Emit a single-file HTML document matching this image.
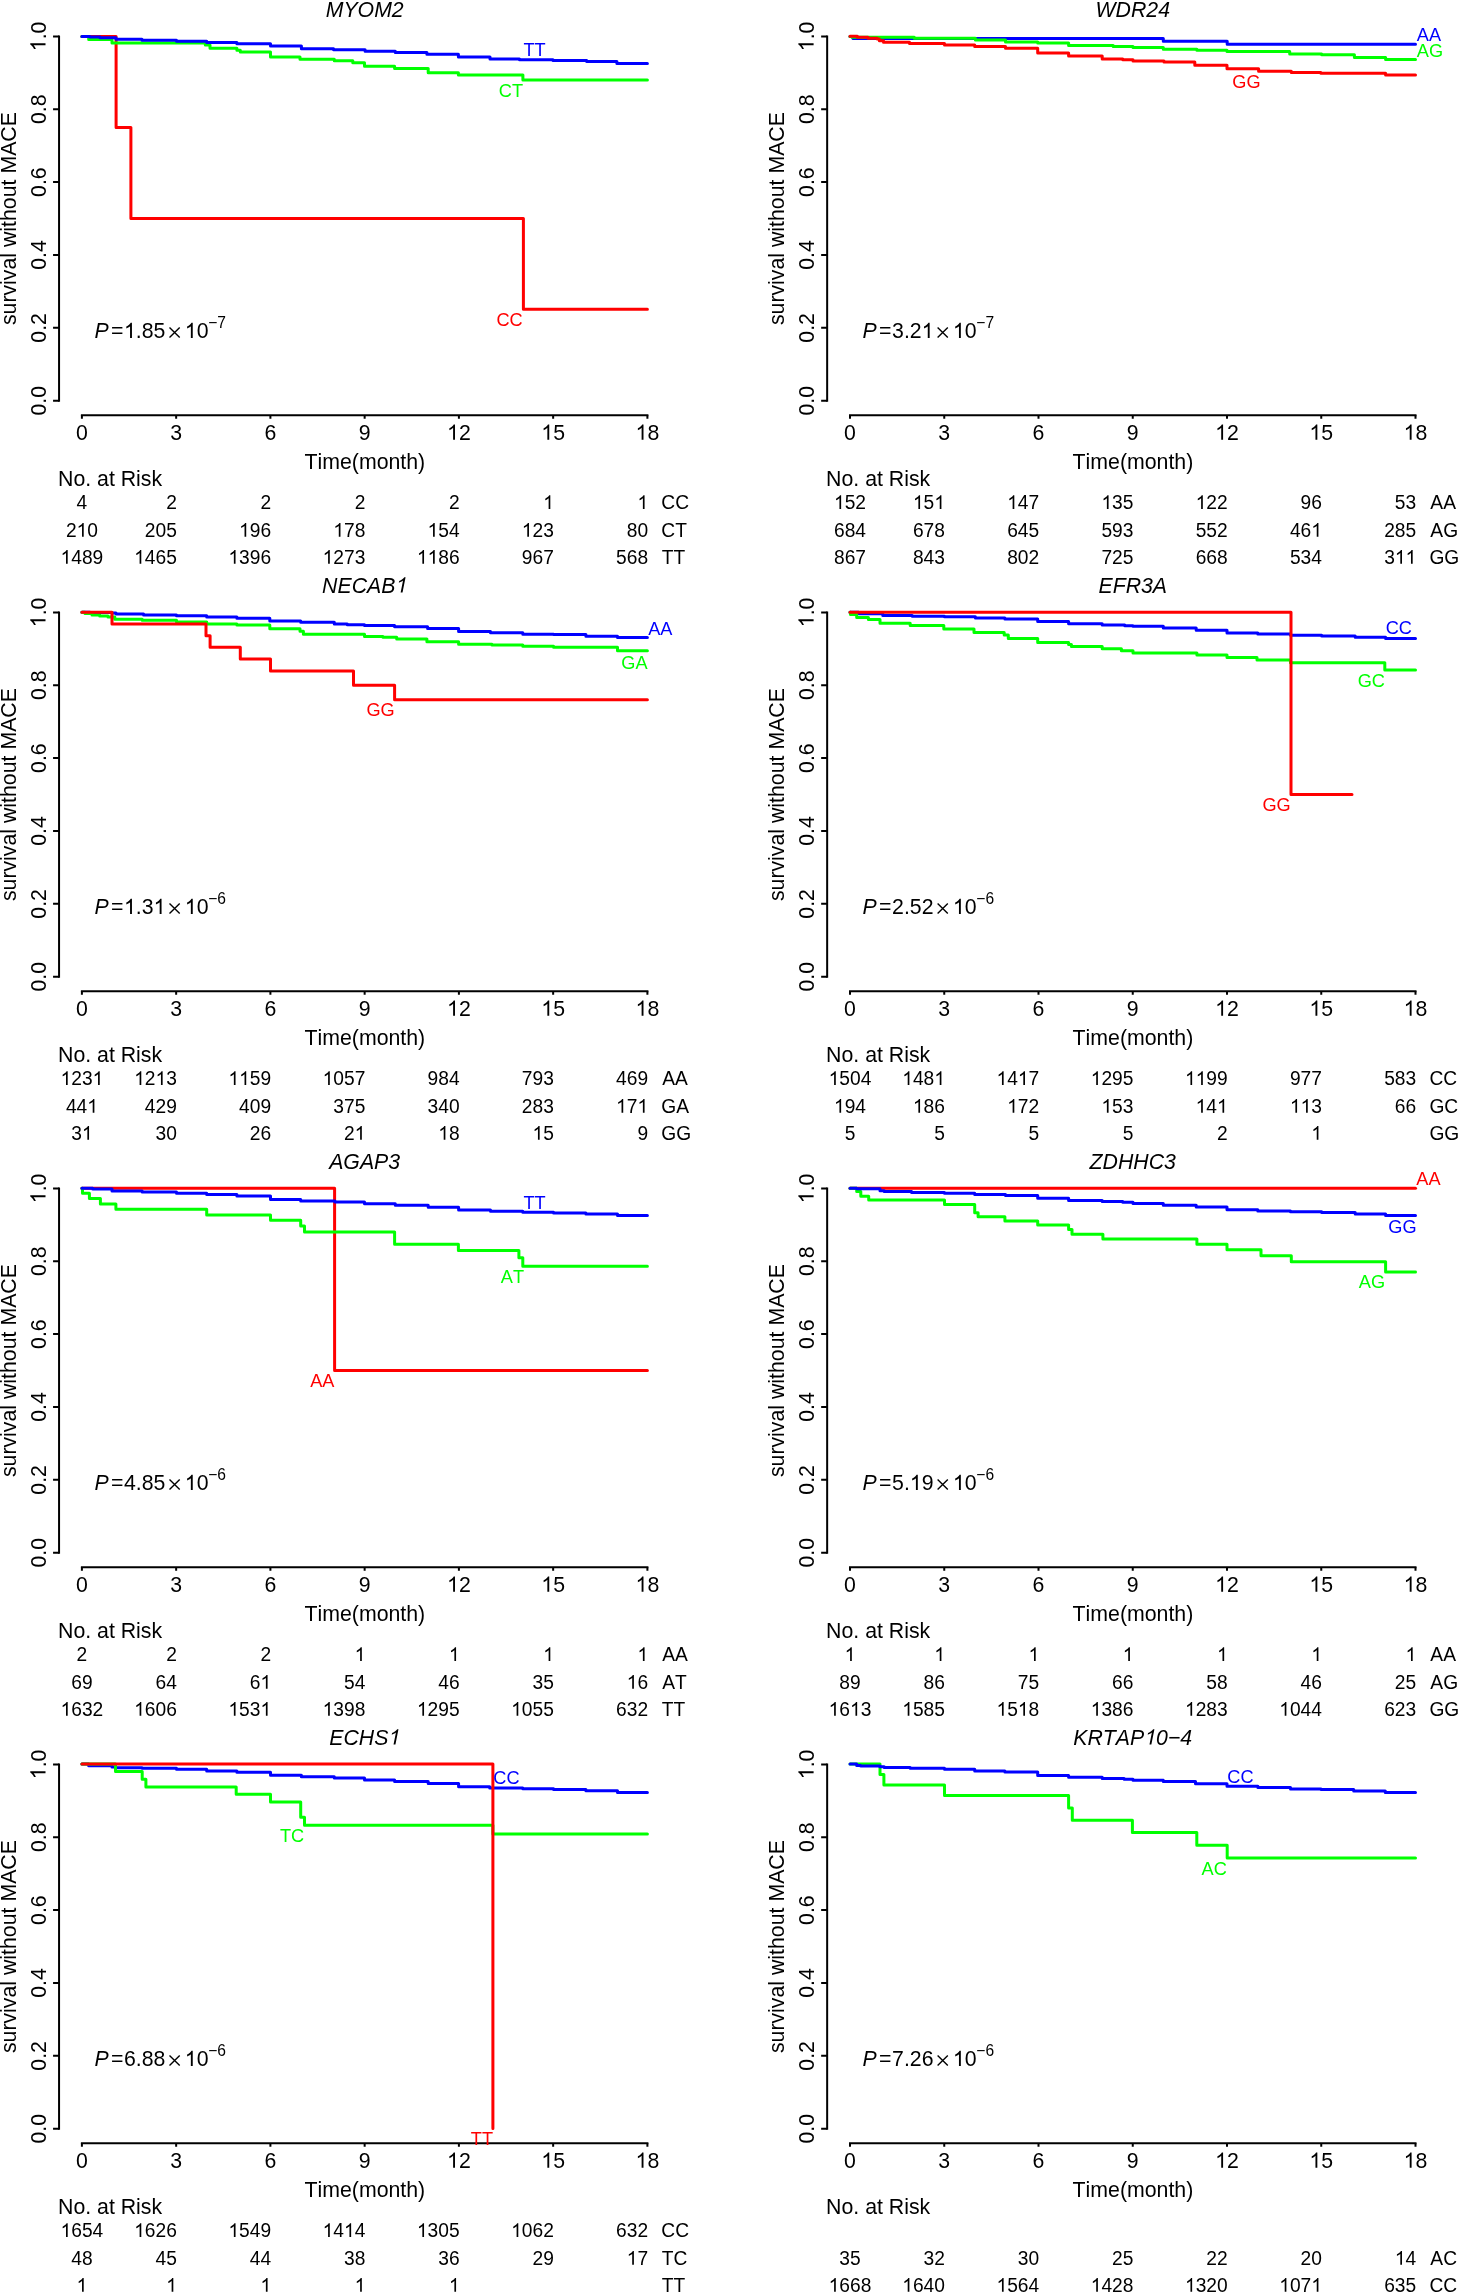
<!DOCTYPE html><html><head><meta charset="utf-8"><title>KM curves</title><style>html,body{margin:0;padding:0;background:#fff;}svg{display:block;will-change:transform;}text{font-family:"Liberation Sans",sans-serif;font-kerning:none;font-feature-settings:"kern" 0;}</style></head><body>
<svg width="1458" height="2293" viewBox="0 0 1458 2293">
<rect width="1458" height="2293" fill="#fff"/>
<g><g transform="translate(364.7 16.5)"><text x="-39.05" y="0" font-size="21.3" font-style="italic" transform="scale(1 1.0407)">MYOM2</text></g><path d="M59.06 400.7V36.4" stroke="#000" stroke-width="2" fill="none" stroke-linecap="square"/><path d="M59.06 400.7H53.06M59.06 327.84H53.06M59.06 254.98H53.06M59.06 182.12H53.06M59.06 109.26H53.06M59.06 36.4H53.06" stroke="#000" stroke-width="2" fill="none"/><g transform="translate(45.5 400.7) rotate(-90)"><text x="-14.8" y="0" font-size="21.3" transform="scale(1 1.0407)">0.0</text></g><g transform="translate(45.5 327.84) rotate(-90)"><text x="-14.8" y="0" font-size="21.3" transform="scale(1 1.0407)">0.2</text></g><g transform="translate(45.5 254.98) rotate(-90)"><text x="-14.8" y="0" font-size="21.3" transform="scale(1 1.0407)">0.4</text></g><g transform="translate(45.5 182.12) rotate(-90)"><text x="-14.8" y="0" font-size="21.3" transform="scale(1 1.0407)">0.6</text></g><g transform="translate(45.5 109.26) rotate(-90)"><text x="-14.8" y="0" font-size="21.3" transform="scale(1 1.0407)">0.8</text></g><g transform="translate(45.5 36.4) rotate(-90)"><text x="-14.8" y="0" font-size="21.3" transform="scale(1 1.0407)"> .0</text><path d="M763 0H583V1147Q518 1085 412 1023Q306 961 223 930V1104Q372 1174 484 1274Q596 1374 643 1466H763Z" transform="matrix(0.0104 0 0 -0.0104 -14.8 0)"/></g><text transform="translate(16.2 218.6) rotate(-90)" font-size="21.3" text-anchor="middle">survival without MACE</text><path d="M81.9 415.3H647.4" stroke="#000" stroke-width="2" fill="none" stroke-linecap="square"/><path d="M81.9 415.3V418.7M176.15 415.3V418.7M270.4 415.3V418.7M364.65 415.3V418.7M458.9 415.3V418.7M553.15 415.3V418.7M647.4 415.3V418.7" stroke="#000" stroke-width="2" fill="none"/><g transform="translate(81.9 439.8)"><text x="-5.92" y="0" font-size="21.3" transform="scale(1 1.0407)">0</text></g><g transform="translate(176.15 439.8)"><text x="-5.92" y="0" font-size="21.3" transform="scale(1 1.0407)">3</text></g><g transform="translate(270.4 439.8)"><text x="-5.92" y="0" font-size="21.3" transform="scale(1 1.0407)">6</text></g><g transform="translate(364.65 439.8)"><text x="-5.92" y="0" font-size="21.3" transform="scale(1 1.0407)">9</text></g><g transform="translate(458.9 439.8)"><text x="-11.85" y="0" font-size="21.3" transform="scale(1 1.0407)"> 2</text><path d="M763 0H583V1147Q518 1085 412 1023Q306 961 223 930V1104Q372 1174 484 1274Q596 1374 643 1466H763Z" transform="matrix(0.0104 0 0 -0.0104 -11.85 0)"/></g><g transform="translate(553.15 439.8)"><text x="-11.85" y="0" font-size="21.3" transform="scale(1 1.0407)"> 5</text><path d="M763 0H583V1147Q518 1085 412 1023Q306 961 223 930V1104Q372 1174 484 1274Q596 1374 643 1466H763Z" transform="matrix(0.0104 0 0 -0.0104 -11.85 0)"/></g><g transform="translate(647.4 439.8)"><text x="-11.85" y="0" font-size="21.3" transform="scale(1 1.0407)"> 8</text><path d="M763 0H583V1147Q518 1085 412 1023Q306 961 223 930V1104Q372 1174 484 1274Q596 1374 643 1466H763Z" transform="matrix(0.0104 0 0 -0.0104 -11.85 0)"/></g><text x="364.85" y="469.1" font-size="21.3" text-anchor="middle">Time(month)</text><text x="58" y="486.4" font-size="21.3">No. at Risk</text><g transform="translate(81.9 509)"><text x="-5.34" y="0" font-size="19.2" transform="scale(1 1.0407)">4</text></g><g transform="translate(176.85 509)"><text x="-10.68" y="0" font-size="19.2" transform="scale(1 1.0407)">2</text></g><g transform="translate(271.1 509)"><text x="-10.68" y="0" font-size="19.2" transform="scale(1 1.0407)">2</text></g><g transform="translate(365.35 509)"><text x="-10.68" y="0" font-size="19.2" transform="scale(1 1.0407)">2</text></g><g transform="translate(459.6 509)"><text x="-10.68" y="0" font-size="19.2" transform="scale(1 1.0407)">2</text></g><g transform="translate(553.85 509)"><path d="M763 0H583V1147Q518 1085 412 1023Q306 961 223 930V1104Q372 1174 484 1274Q596 1374 643 1466H763Z" transform="matrix(0.00937 0 0 -0.00937 -10.68 0)"/></g><g transform="translate(648.1 509)"><path d="M763 0H583V1147Q518 1085 412 1023Q306 961 223 930V1104Q372 1174 484 1274Q596 1374 643 1466H763Z" transform="matrix(0.00937 0 0 -0.00937 -10.68 0)"/></g><g transform="translate(661.32 509)"><text x="0" y="0" font-size="19.2" transform="scale(1 1.0407)">CC</text></g><g transform="translate(81.9 536.7)"><text x="-16.02" y="0" font-size="19.2" transform="scale(1 1.0407)">2 0</text><path d="M763 0H583V1147Q518 1085 412 1023Q306 961 223 930V1104Q372 1174 484 1274Q596 1374 643 1466H763Z" transform="matrix(0.00937 0 0 -0.00937 -5.34 0)"/></g><g transform="translate(176.85 536.7)"><text x="-32.03" y="0" font-size="19.2" transform="scale(1 1.0407)">205</text></g><g transform="translate(271.1 536.7)"><text x="-32.03" y="0" font-size="19.2" transform="scale(1 1.0407)"> 96</text><path d="M763 0H583V1147Q518 1085 412 1023Q306 961 223 930V1104Q372 1174 484 1274Q596 1374 643 1466H763Z" transform="matrix(0.00937 0 0 -0.00937 -32.03 0)"/></g><g transform="translate(365.35 536.7)"><text x="-32.03" y="0" font-size="19.2" transform="scale(1 1.0407)"> 78</text><path d="M763 0H583V1147Q518 1085 412 1023Q306 961 223 930V1104Q372 1174 484 1274Q596 1374 643 1466H763Z" transform="matrix(0.00937 0 0 -0.00937 -32.03 0)"/></g><g transform="translate(459.6 536.7)"><text x="-32.03" y="0" font-size="19.2" transform="scale(1 1.0407)"> 54</text><path d="M763 0H583V1147Q518 1085 412 1023Q306 961 223 930V1104Q372 1174 484 1274Q596 1374 643 1466H763Z" transform="matrix(0.00937 0 0 -0.00937 -32.03 0)"/></g><g transform="translate(553.85 536.7)"><text x="-32.03" y="0" font-size="19.2" transform="scale(1 1.0407)"> 23</text><path d="M763 0H583V1147Q518 1085 412 1023Q306 961 223 930V1104Q372 1174 484 1274Q596 1374 643 1466H763Z" transform="matrix(0.00937 0 0 -0.00937 -32.03 0)"/></g><g transform="translate(648.1 536.7)"><text x="-21.36" y="0" font-size="19.2" transform="scale(1 1.0407)">80</text></g><g transform="translate(661.32 536.7)"><text x="0" y="0" font-size="19.2" transform="scale(1 1.0407)">CT</text></g><g transform="translate(81.9 563.8)"><text x="-21.36" y="0" font-size="19.2" transform="scale(1 1.0407)"> 489</text><path d="M763 0H583V1147Q518 1085 412 1023Q306 961 223 930V1104Q372 1174 484 1274Q596 1374 643 1466H763Z" transform="matrix(0.00937 0 0 -0.00937 -21.36 0)"/></g><g transform="translate(176.85 563.8)"><text x="-42.71" y="0" font-size="19.2" transform="scale(1 1.0407)"> 465</text><path d="M763 0H583V1147Q518 1085 412 1023Q306 961 223 930V1104Q372 1174 484 1274Q596 1374 643 1466H763Z" transform="matrix(0.00937 0 0 -0.00937 -42.71 0)"/></g><g transform="translate(271.1 563.8)"><text x="-42.71" y="0" font-size="19.2" transform="scale(1 1.0407)"> 396</text><path d="M763 0H583V1147Q518 1085 412 1023Q306 961 223 930V1104Q372 1174 484 1274Q596 1374 643 1466H763Z" transform="matrix(0.00937 0 0 -0.00937 -42.71 0)"/></g><g transform="translate(365.35 563.8)"><text x="-42.71" y="0" font-size="19.2" transform="scale(1 1.0407)"> 273</text><path d="M763 0H583V1147Q518 1085 412 1023Q306 961 223 930V1104Q372 1174 484 1274Q596 1374 643 1466H763Z" transform="matrix(0.00937 0 0 -0.00937 -42.71 0)"/></g><g transform="translate(459.6 563.8)"><text x="-42.71" y="0" font-size="19.2" transform="scale(1 1.0407)">  86</text><path d="M763 0H583V1147Q518 1085 412 1023Q306 961 223 930V1104Q372 1174 484 1274Q596 1374 643 1466H763Z" transform="matrix(0.00937 0 0 -0.00937 -42.71 0)"/><path d="M763 0H583V1147Q518 1085 412 1023Q306 961 223 930V1104Q372 1174 484 1274Q596 1374 643 1466H763Z" transform="matrix(0.00937 0 0 -0.00937 -32.03 0)"/></g><g transform="translate(553.85 563.8)"><text x="-32.03" y="0" font-size="19.2" transform="scale(1 1.0407)">967</text></g><g transform="translate(648.1 563.8)"><text x="-32.03" y="0" font-size="19.2" transform="scale(1 1.0407)">568</text></g><g transform="translate(661.87 563.8)"><text x="0" y="0" font-size="19.2" transform="scale(1 1.0407)">TT</text></g><path d="M81.9 36.4H116.1V127.5H130.9V218.5H523.4V309.3H647.4" stroke="#ff0000" stroke-width="3" fill="none" stroke-linecap="round" stroke-linejoin="round"/><path d="M81.9 36.4H88.7V39.6H112V43H205.3V45.1H210V48.2H236.9V50.3H240.3V52H270.5V57H300V59.3H334.3V60.7H352.8V62.8H364.5V66.3H394.6V68.5H428.2V72.7H458.4V75H522.9V79.9H647.4" stroke="#00ff00" stroke-width="3" fill="none" stroke-linecap="round" stroke-linejoin="round"/><path d="M81.9 36.4H90V37H100V37.8H116V39.3H142V40.3H176.5V41.2H206.7V42.6H236.9V43.7H270.5V46H301.4V48.7H333.6V49.7H365.1V51.2H395.3V52.4H426.9V54.2H458.4V56.9H490V59H519.5V59.7H553V60.4H586.7V61.5H616.9V63.4H647.4" stroke="#0000ff" stroke-width="3" fill="none" stroke-linecap="round" stroke-linejoin="round"/><g transform="translate(534.5 55.9)" fill="#0000ff"><text x="-11.12" y="0" font-size="18.2" fill="#0000ff" transform="scale(1 1.0407)">TT</text></g><g transform="translate(510.9 97.2)" fill="#00ff00"><text x="-12.13" y="0" font-size="18.2" fill="#00ff00" transform="scale(1 1.0407)">CT</text></g><g transform="translate(509.6 326.2)" fill="#ff0000"><text x="-13.14" y="0" font-size="18.2" fill="#ff0000" transform="scale(1 1.0407)">CC</text></g><g transform="translate(94.5 338.1)"><text x="0" y="0" font-size="21.3" font-style="italic" transform="scale(1 1.0407)">P</text></g><text x="111" y="338.1" font-size="21.3">=</text><g transform="translate(124 338.1)"><text x="0" y="0" font-size="21.3" transform="scale(1 1.0407)"> .85</text><path d="M763 0H583V1147Q518 1085 412 1023Q306 961 223 930V1104Q372 1174 484 1274Q596 1374 643 1466H763Z" transform="matrix(0.0104 0 0 -0.0104 0 0)"/></g><path d="M169.5 327.6L179.7 337.6M169.5 337.6L179.7 327.6" stroke="#000" stroke-width="1.4" fill="none"/><g transform="translate(184.8 338.1)"><text x="0" y="0" font-size="21.3" transform="scale(1 1.0407)"> 0</text><path d="M763 0H583V1147Q518 1085 412 1023Q306 961 223 930V1104Q372 1174 484 1274Q596 1374 643 1466H763Z" transform="matrix(0.0104 0 0 -0.0104 0 0)"/></g><g transform="translate(208.2 327.9)"><text x="0" y="0" font-size="15.6" transform="scale(1 1.0407)">−7</text></g></g>
<g><g transform="translate(1132.8 16.5)"><text x="-37.28" y="0" font-size="21.3" font-style="italic" transform="scale(1 1.0407)">WDR24</text></g><path d="M827.16 400.7V36.4" stroke="#000" stroke-width="2" fill="none" stroke-linecap="square"/><path d="M827.16 400.7H821.16M827.16 327.84H821.16M827.16 254.98H821.16M827.16 182.12H821.16M827.16 109.26H821.16M827.16 36.4H821.16" stroke="#000" stroke-width="2" fill="none"/><g transform="translate(813.6 400.7) rotate(-90)"><text x="-14.8" y="0" font-size="21.3" transform="scale(1 1.0407)">0.0</text></g><g transform="translate(813.6 327.84) rotate(-90)"><text x="-14.8" y="0" font-size="21.3" transform="scale(1 1.0407)">0.2</text></g><g transform="translate(813.6 254.98) rotate(-90)"><text x="-14.8" y="0" font-size="21.3" transform="scale(1 1.0407)">0.4</text></g><g transform="translate(813.6 182.12) rotate(-90)"><text x="-14.8" y="0" font-size="21.3" transform="scale(1 1.0407)">0.6</text></g><g transform="translate(813.6 109.26) rotate(-90)"><text x="-14.8" y="0" font-size="21.3" transform="scale(1 1.0407)">0.8</text></g><g transform="translate(813.6 36.4) rotate(-90)"><text x="-14.8" y="0" font-size="21.3" transform="scale(1 1.0407)"> .0</text><path d="M763 0H583V1147Q518 1085 412 1023Q306 961 223 930V1104Q372 1174 484 1274Q596 1374 643 1466H763Z" transform="matrix(0.0104 0 0 -0.0104 -14.8 0)"/></g><text transform="translate(784.3 218.6) rotate(-90)" font-size="21.3" text-anchor="middle">survival without MACE</text><path d="M850 415.3H1415.5" stroke="#000" stroke-width="2" fill="none" stroke-linecap="square"/><path d="M850 415.3V418.7M944.25 415.3V418.7M1038.5 415.3V418.7M1132.75 415.3V418.7M1227 415.3V418.7M1321.25 415.3V418.7M1415.5 415.3V418.7" stroke="#000" stroke-width="2" fill="none"/><g transform="translate(850 439.8)"><text x="-5.92" y="0" font-size="21.3" transform="scale(1 1.0407)">0</text></g><g transform="translate(944.25 439.8)"><text x="-5.92" y="0" font-size="21.3" transform="scale(1 1.0407)">3</text></g><g transform="translate(1038.5 439.8)"><text x="-5.92" y="0" font-size="21.3" transform="scale(1 1.0407)">6</text></g><g transform="translate(1132.75 439.8)"><text x="-5.92" y="0" font-size="21.3" transform="scale(1 1.0407)">9</text></g><g transform="translate(1227 439.8)"><text x="-11.85" y="0" font-size="21.3" transform="scale(1 1.0407)"> 2</text><path d="M763 0H583V1147Q518 1085 412 1023Q306 961 223 930V1104Q372 1174 484 1274Q596 1374 643 1466H763Z" transform="matrix(0.0104 0 0 -0.0104 -11.85 0)"/></g><g transform="translate(1321.25 439.8)"><text x="-11.85" y="0" font-size="21.3" transform="scale(1 1.0407)"> 5</text><path d="M763 0H583V1147Q518 1085 412 1023Q306 961 223 930V1104Q372 1174 484 1274Q596 1374 643 1466H763Z" transform="matrix(0.0104 0 0 -0.0104 -11.85 0)"/></g><g transform="translate(1415.5 439.8)"><text x="-11.85" y="0" font-size="21.3" transform="scale(1 1.0407)"> 8</text><path d="M763 0H583V1147Q518 1085 412 1023Q306 961 223 930V1104Q372 1174 484 1274Q596 1374 643 1466H763Z" transform="matrix(0.0104 0 0 -0.0104 -11.85 0)"/></g><text x="1132.95" y="469.1" font-size="21.3" text-anchor="middle">Time(month)</text><text x="826.1" y="486.4" font-size="21.3">No. at Risk</text><g transform="translate(850 509)"><text x="-16.02" y="0" font-size="19.2" transform="scale(1 1.0407)"> 52</text><path d="M763 0H583V1147Q518 1085 412 1023Q306 961 223 930V1104Q372 1174 484 1274Q596 1374 643 1466H763Z" transform="matrix(0.00937 0 0 -0.00937 -16.02 0)"/></g><g transform="translate(944.95 509)"><text x="-32.03" y="0" font-size="19.2" transform="scale(1 1.0407)"> 5 </text><path d="M763 0H583V1147Q518 1085 412 1023Q306 961 223 930V1104Q372 1174 484 1274Q596 1374 643 1466H763Z" transform="matrix(0.00937 0 0 -0.00937 -32.03 0)"/><path d="M763 0H583V1147Q518 1085 412 1023Q306 961 223 930V1104Q372 1174 484 1274Q596 1374 643 1466H763Z" transform="matrix(0.00937 0 0 -0.00937 -10.68 0)"/></g><g transform="translate(1039.2 509)"><text x="-32.03" y="0" font-size="19.2" transform="scale(1 1.0407)"> 47</text><path d="M763 0H583V1147Q518 1085 412 1023Q306 961 223 930V1104Q372 1174 484 1274Q596 1374 643 1466H763Z" transform="matrix(0.00937 0 0 -0.00937 -32.03 0)"/></g><g transform="translate(1133.45 509)"><text x="-32.03" y="0" font-size="19.2" transform="scale(1 1.0407)"> 35</text><path d="M763 0H583V1147Q518 1085 412 1023Q306 961 223 930V1104Q372 1174 484 1274Q596 1374 643 1466H763Z" transform="matrix(0.00937 0 0 -0.00937 -32.03 0)"/></g><g transform="translate(1227.7 509)"><text x="-32.03" y="0" font-size="19.2" transform="scale(1 1.0407)"> 22</text><path d="M763 0H583V1147Q518 1085 412 1023Q306 961 223 930V1104Q372 1174 484 1274Q596 1374 643 1466H763Z" transform="matrix(0.00937 0 0 -0.00937 -32.03 0)"/></g><g transform="translate(1321.95 509)"><text x="-21.36" y="0" font-size="19.2" transform="scale(1 1.0407)">96</text></g><g transform="translate(1416.2 509)"><text x="-21.36" y="0" font-size="19.2" transform="scale(1 1.0407)">53</text></g><g transform="translate(1430.36 509)"><text x="0" y="0" font-size="19.2" transform="scale(1 1.0407)">AA</text></g><g transform="translate(850 536.7)"><text x="-16.02" y="0" font-size="19.2" transform="scale(1 1.0407)">684</text></g><g transform="translate(944.95 536.7)"><text x="-32.03" y="0" font-size="19.2" transform="scale(1 1.0407)">678</text></g><g transform="translate(1039.2 536.7)"><text x="-32.03" y="0" font-size="19.2" transform="scale(1 1.0407)">645</text></g><g transform="translate(1133.45 536.7)"><text x="-32.03" y="0" font-size="19.2" transform="scale(1 1.0407)">593</text></g><g transform="translate(1227.7 536.7)"><text x="-32.03" y="0" font-size="19.2" transform="scale(1 1.0407)">552</text></g><g transform="translate(1321.95 536.7)"><text x="-32.03" y="0" font-size="19.2" transform="scale(1 1.0407)">46 </text><path d="M763 0H583V1147Q518 1085 412 1023Q306 961 223 930V1104Q372 1174 484 1274Q596 1374 643 1466H763Z" transform="matrix(0.00937 0 0 -0.00937 -10.68 0)"/></g><g transform="translate(1416.2 536.7)"><text x="-32.03" y="0" font-size="19.2" transform="scale(1 1.0407)">285</text></g><g transform="translate(1430.36 536.7)"><text x="0" y="0" font-size="19.2" transform="scale(1 1.0407)">AG</text></g><g transform="translate(850 563.8)"><text x="-16.02" y="0" font-size="19.2" transform="scale(1 1.0407)">867</text></g><g transform="translate(944.95 563.8)"><text x="-32.03" y="0" font-size="19.2" transform="scale(1 1.0407)">843</text></g><g transform="translate(1039.2 563.8)"><text x="-32.03" y="0" font-size="19.2" transform="scale(1 1.0407)">802</text></g><g transform="translate(1133.45 563.8)"><text x="-32.03" y="0" font-size="19.2" transform="scale(1 1.0407)">725</text></g><g transform="translate(1227.7 563.8)"><text x="-32.03" y="0" font-size="19.2" transform="scale(1 1.0407)">668</text></g><g transform="translate(1321.95 563.8)"><text x="-32.03" y="0" font-size="19.2" transform="scale(1 1.0407)">534</text></g><g transform="translate(1416.2 563.8)"><text x="-32.03" y="0" font-size="19.2" transform="scale(1 1.0407)">3  </text><path d="M763 0H583V1147Q518 1085 412 1023Q306 961 223 930V1104Q372 1174 484 1274Q596 1374 643 1466H763Z" transform="matrix(0.00937 0 0 -0.00937 -21.36 0)"/><path d="M763 0H583V1147Q518 1085 412 1023Q306 961 223 930V1104Q372 1174 484 1274Q596 1374 643 1466H763Z" transform="matrix(0.00937 0 0 -0.00937 -10.68 0)"/></g><g transform="translate(1429.43 563.8)"><text x="0" y="0" font-size="19.2" transform="scale(1 1.0407)">GG</text></g><path d="M850 36.4H853V38.4H1163.3V41.3H1227.2V44.2H1415.5" stroke="#0000ff" stroke-width="3" fill="none" stroke-linecap="round" stroke-linejoin="round"/><path d="M850 36.4H852V37.3H914.3V38.3H975.4V40.1H1005.5V42H1037.7V43.1H1068.6V45.4H1113.2V46.5H1133V47.6H1163.3V49.3H1196.9V50.2H1227V51.5H1289.7V54.1H1321.7V54.7H1354.4V57.4H1385.6V59.4H1415.5" stroke="#00ff00" stroke-width="3" fill="none" stroke-linecap="round" stroke-linejoin="round"/><path d="M850 36.3H857.4V37.3H868V38.2H877.3V39.1H879.4V40.7H883.5V42.3H909.5V43.5H944.5V45.1H974.7V46.5H1005.5V48.3H1037.7V53.1H1068.6V56.1H1102.2V58.9H1122.8V59.8H1133V60.9H1164V61.9H1194.8V65.3H1227V68.7H1258.6V71.3H1291.3V72.5H1320.9V73.3H1385.6V75H1415.5" stroke="#ff0000" stroke-width="3" fill="none" stroke-linecap="round" stroke-linejoin="round"/><g transform="translate(1416.76 40.7)" fill="#0000ff"><text x="0" y="0" font-size="18.2" fill="#0000ff" transform="scale(1 1.0407)">AA</text></g><g transform="translate(1416.76 56.8)" fill="#00ff00"><text x="0" y="0" font-size="18.2" fill="#00ff00" transform="scale(1 1.0407)">AG</text></g><g transform="translate(1246.4 87.8)" fill="#ff0000"><text x="-14.16" y="0" font-size="18.2" fill="#ff0000" transform="scale(1 1.0407)">GG</text></g><g transform="translate(862.6 338.1)"><text x="0" y="0" font-size="21.3" font-style="italic" transform="scale(1 1.0407)">P</text></g><text x="879.1" y="338.1" font-size="21.3">=</text><g transform="translate(892.1 338.1)"><text x="0" y="0" font-size="21.3" transform="scale(1 1.0407)">3.2 </text><path d="M763 0H583V1147Q518 1085 412 1023Q306 961 223 930V1104Q372 1174 484 1274Q596 1374 643 1466H763Z" transform="matrix(0.0104 0 0 -0.0104 29.61 0)"/></g><path d="M937.6 327.6L947.8 337.6M937.6 337.6L947.8 327.6" stroke="#000" stroke-width="1.4" fill="none"/><g transform="translate(952.9 338.1)"><text x="0" y="0" font-size="21.3" transform="scale(1 1.0407)"> 0</text><path d="M763 0H583V1147Q518 1085 412 1023Q306 961 223 930V1104Q372 1174 484 1274Q596 1374 643 1466H763Z" transform="matrix(0.0104 0 0 -0.0104 0 0)"/></g><g transform="translate(976.3 327.9)"><text x="0" y="0" font-size="15.6" transform="scale(1 1.0407)">−7</text></g></g>
<g><g transform="translate(364.7 592.5)"><text x="-42.62" y="0" font-size="21.3" font-style="italic" transform="scale(1 1.0407)">NECAB </text><path d="M763 0H583V1147Q518 1085 412 1023Q306 961 223 930V1104Q372 1174 484 1274Q596 1374 643 1466H763Z" transform="matrix(0.0104 0 0.00208 -0.0104 29.89 0)"/></g><path d="M59.06 976.7V612.4" stroke="#000" stroke-width="2" fill="none" stroke-linecap="square"/><path d="M59.06 976.7H53.06M59.06 903.84H53.06M59.06 830.98H53.06M59.06 758.12H53.06M59.06 685.26H53.06M59.06 612.4H53.06" stroke="#000" stroke-width="2" fill="none"/><g transform="translate(45.5 976.7) rotate(-90)"><text x="-14.8" y="0" font-size="21.3" transform="scale(1 1.0407)">0.0</text></g><g transform="translate(45.5 903.84) rotate(-90)"><text x="-14.8" y="0" font-size="21.3" transform="scale(1 1.0407)">0.2</text></g><g transform="translate(45.5 830.98) rotate(-90)"><text x="-14.8" y="0" font-size="21.3" transform="scale(1 1.0407)">0.4</text></g><g transform="translate(45.5 758.12) rotate(-90)"><text x="-14.8" y="0" font-size="21.3" transform="scale(1 1.0407)">0.6</text></g><g transform="translate(45.5 685.26) rotate(-90)"><text x="-14.8" y="0" font-size="21.3" transform="scale(1 1.0407)">0.8</text></g><g transform="translate(45.5 612.4) rotate(-90)"><text x="-14.8" y="0" font-size="21.3" transform="scale(1 1.0407)"> .0</text><path d="M763 0H583V1147Q518 1085 412 1023Q306 961 223 930V1104Q372 1174 484 1274Q596 1374 643 1466H763Z" transform="matrix(0.0104 0 0 -0.0104 -14.8 0)"/></g><text transform="translate(16.2 794.6) rotate(-90)" font-size="21.3" text-anchor="middle">survival without MACE</text><path d="M81.9 991.3H647.4" stroke="#000" stroke-width="2" fill="none" stroke-linecap="square"/><path d="M81.9 991.3V994.7M176.15 991.3V994.7M270.4 991.3V994.7M364.65 991.3V994.7M458.9 991.3V994.7M553.15 991.3V994.7M647.4 991.3V994.7" stroke="#000" stroke-width="2" fill="none"/><g transform="translate(81.9 1015.8)"><text x="-5.92" y="0" font-size="21.3" transform="scale(1 1.0407)">0</text></g><g transform="translate(176.15 1015.8)"><text x="-5.92" y="0" font-size="21.3" transform="scale(1 1.0407)">3</text></g><g transform="translate(270.4 1015.8)"><text x="-5.92" y="0" font-size="21.3" transform="scale(1 1.0407)">6</text></g><g transform="translate(364.65 1015.8)"><text x="-5.92" y="0" font-size="21.3" transform="scale(1 1.0407)">9</text></g><g transform="translate(458.9 1015.8)"><text x="-11.85" y="0" font-size="21.3" transform="scale(1 1.0407)"> 2</text><path d="M763 0H583V1147Q518 1085 412 1023Q306 961 223 930V1104Q372 1174 484 1274Q596 1374 643 1466H763Z" transform="matrix(0.0104 0 0 -0.0104 -11.85 0)"/></g><g transform="translate(553.15 1015.8)"><text x="-11.85" y="0" font-size="21.3" transform="scale(1 1.0407)"> 5</text><path d="M763 0H583V1147Q518 1085 412 1023Q306 961 223 930V1104Q372 1174 484 1274Q596 1374 643 1466H763Z" transform="matrix(0.0104 0 0 -0.0104 -11.85 0)"/></g><g transform="translate(647.4 1015.8)"><text x="-11.85" y="0" font-size="21.3" transform="scale(1 1.0407)"> 8</text><path d="M763 0H583V1147Q518 1085 412 1023Q306 961 223 930V1104Q372 1174 484 1274Q596 1374 643 1466H763Z" transform="matrix(0.0104 0 0 -0.0104 -11.85 0)"/></g><text x="364.85" y="1045.1" font-size="21.3" text-anchor="middle">Time(month)</text><text x="58" y="1062.4" font-size="21.3">No. at Risk</text><g transform="translate(81.9 1085)"><text x="-21.36" y="0" font-size="19.2" transform="scale(1 1.0407)"> 23 </text><path d="M763 0H583V1147Q518 1085 412 1023Q306 961 223 930V1104Q372 1174 484 1274Q596 1374 643 1466H763Z" transform="matrix(0.00937 0 0 -0.00937 -21.36 0)"/><path d="M763 0H583V1147Q518 1085 412 1023Q306 961 223 930V1104Q372 1174 484 1274Q596 1374 643 1466H763Z" transform="matrix(0.00937 0 0 -0.00937 10.68 0)"/></g><g transform="translate(176.85 1085)"><text x="-42.71" y="0" font-size="19.2" transform="scale(1 1.0407)"> 2 3</text><path d="M763 0H583V1147Q518 1085 412 1023Q306 961 223 930V1104Q372 1174 484 1274Q596 1374 643 1466H763Z" transform="matrix(0.00937 0 0 -0.00937 -42.71 0)"/><path d="M763 0H583V1147Q518 1085 412 1023Q306 961 223 930V1104Q372 1174 484 1274Q596 1374 643 1466H763Z" transform="matrix(0.00937 0 0 -0.00937 -21.36 0)"/></g><g transform="translate(271.1 1085)"><text x="-42.71" y="0" font-size="19.2" transform="scale(1 1.0407)">  59</text><path d="M763 0H583V1147Q518 1085 412 1023Q306 961 223 930V1104Q372 1174 484 1274Q596 1374 643 1466H763Z" transform="matrix(0.00937 0 0 -0.00937 -42.71 0)"/><path d="M763 0H583V1147Q518 1085 412 1023Q306 961 223 930V1104Q372 1174 484 1274Q596 1374 643 1466H763Z" transform="matrix(0.00937 0 0 -0.00937 -32.03 0)"/></g><g transform="translate(365.35 1085)"><text x="-42.71" y="0" font-size="19.2" transform="scale(1 1.0407)"> 057</text><path d="M763 0H583V1147Q518 1085 412 1023Q306 961 223 930V1104Q372 1174 484 1274Q596 1374 643 1466H763Z" transform="matrix(0.00937 0 0 -0.00937 -42.71 0)"/></g><g transform="translate(459.6 1085)"><text x="-32.03" y="0" font-size="19.2" transform="scale(1 1.0407)">984</text></g><g transform="translate(553.85 1085)"><text x="-32.03" y="0" font-size="19.2" transform="scale(1 1.0407)">793</text></g><g transform="translate(648.1 1085)"><text x="-32.03" y="0" font-size="19.2" transform="scale(1 1.0407)">469</text></g><g transform="translate(662.26 1085)"><text x="0" y="0" font-size="19.2" transform="scale(1 1.0407)">AA</text></g><g transform="translate(81.9 1112.7)"><text x="-16.02" y="0" font-size="19.2" transform="scale(1 1.0407)">44 </text><path d="M763 0H583V1147Q518 1085 412 1023Q306 961 223 930V1104Q372 1174 484 1274Q596 1374 643 1466H763Z" transform="matrix(0.00937 0 0 -0.00937 5.34 0)"/></g><g transform="translate(176.85 1112.7)"><text x="-32.03" y="0" font-size="19.2" transform="scale(1 1.0407)">429</text></g><g transform="translate(271.1 1112.7)"><text x="-32.03" y="0" font-size="19.2" transform="scale(1 1.0407)">409</text></g><g transform="translate(365.35 1112.7)"><text x="-32.03" y="0" font-size="19.2" transform="scale(1 1.0407)">375</text></g><g transform="translate(459.6 1112.7)"><text x="-32.03" y="0" font-size="19.2" transform="scale(1 1.0407)">340</text></g><g transform="translate(553.85 1112.7)"><text x="-32.03" y="0" font-size="19.2" transform="scale(1 1.0407)">283</text></g><g transform="translate(648.1 1112.7)"><text x="-32.03" y="0" font-size="19.2" transform="scale(1 1.0407)"> 7 </text><path d="M763 0H583V1147Q518 1085 412 1023Q306 961 223 930V1104Q372 1174 484 1274Q596 1374 643 1466H763Z" transform="matrix(0.00937 0 0 -0.00937 -32.03 0)"/><path d="M763 0H583V1147Q518 1085 412 1023Q306 961 223 930V1104Q372 1174 484 1274Q596 1374 643 1466H763Z" transform="matrix(0.00937 0 0 -0.00937 -10.68 0)"/></g><g transform="translate(661.33 1112.7)"><text x="0" y="0" font-size="19.2" transform="scale(1 1.0407)">GA</text></g><g transform="translate(81.9 1139.8)"><text x="-10.68" y="0" font-size="19.2" transform="scale(1 1.0407)">3 </text><path d="M763 0H583V1147Q518 1085 412 1023Q306 961 223 930V1104Q372 1174 484 1274Q596 1374 643 1466H763Z" transform="matrix(0.00937 0 0 -0.00937 0 0)"/></g><g transform="translate(176.85 1139.8)"><text x="-21.36" y="0" font-size="19.2" transform="scale(1 1.0407)">30</text></g><g transform="translate(271.1 1139.8)"><text x="-21.36" y="0" font-size="19.2" transform="scale(1 1.0407)">26</text></g><g transform="translate(365.35 1139.8)"><text x="-21.36" y="0" font-size="19.2" transform="scale(1 1.0407)">2 </text><path d="M763 0H583V1147Q518 1085 412 1023Q306 961 223 930V1104Q372 1174 484 1274Q596 1374 643 1466H763Z" transform="matrix(0.00937 0 0 -0.00937 -10.68 0)"/></g><g transform="translate(459.6 1139.8)"><text x="-21.36" y="0" font-size="19.2" transform="scale(1 1.0407)"> 8</text><path d="M763 0H583V1147Q518 1085 412 1023Q306 961 223 930V1104Q372 1174 484 1274Q596 1374 643 1466H763Z" transform="matrix(0.00937 0 0 -0.00937 -21.36 0)"/></g><g transform="translate(553.85 1139.8)"><text x="-21.36" y="0" font-size="19.2" transform="scale(1 1.0407)"> 5</text><path d="M763 0H583V1147Q518 1085 412 1023Q306 961 223 930V1104Q372 1174 484 1274Q596 1374 643 1466H763Z" transform="matrix(0.00937 0 0 -0.00937 -21.36 0)"/></g><g transform="translate(648.1 1139.8)"><text x="-10.68" y="0" font-size="19.2" transform="scale(1 1.0407)">9</text></g><g transform="translate(661.33 1139.8)"><text x="0" y="0" font-size="19.2" transform="scale(1 1.0407)">GG</text></g><path d="M81.9 612.3H90V612.6H112V613H116V614H143.6V615.1H176.5V615.8H206.7V617.1H236.9V618.2H269.8V620.9H300.7V622.2H334.3V624H347.3V624.7H364.5V625.4H394.6V626.7H427.6V628.4H458.6V631.5H490.5V632.8H522.8V634.2H553.6V634.4H585.9V636.3H617.5V637.5H647.4" stroke="#0000ff" stroke-width="3" fill="none" stroke-linecap="round" stroke-linejoin="round"/><path d="M81.9 612.3H85V613.5H92V615.1H99.7V616H108V617.1H114.8V619.2H142.2V620.3H176.5V622H206.7V624H236.9V625H269.8V628.8H300V631.3H303.4V634.3H364.5V636.4H383V637.3H396.7V639.1H426.9V641.8H458.6V644.2H492V645H522.8V646.2H553.6V647.3H617.5V650.8H647.4" stroke="#00ff00" stroke-width="3" fill="none" stroke-linecap="round" stroke-linejoin="round"/><path d="M81.9 612.3H112V624H206V635.7H210.1V647.3H240.3V659H270.5V671.1H353.5V685.3H394.6V699.8H647.4" stroke="#ff0000" stroke-width="3" fill="none" stroke-linecap="round" stroke-linejoin="round"/><g transform="translate(648.16 634.7)" fill="#0000ff"><text x="0" y="0" font-size="18.2" fill="#0000ff" transform="scale(1 1.0407)">AA</text></g><g transform="translate(647.54 668.7)" fill="#00ff00"><text x="-26.3" y="0" font-size="18.2" fill="#00ff00" transform="scale(1 1.0407)">GA</text></g><g transform="translate(380.6 716.3)" fill="#ff0000"><text x="-14.16" y="0" font-size="18.2" fill="#ff0000" transform="scale(1 1.0407)">GG</text></g><g transform="translate(94.5 914.1)"><text x="0" y="0" font-size="21.3" font-style="italic" transform="scale(1 1.0407)">P</text></g><text x="111" y="914.1" font-size="21.3">=</text><g transform="translate(124 914.1)"><text x="0" y="0" font-size="21.3" transform="scale(1 1.0407)"> .3 </text><path d="M763 0H583V1147Q518 1085 412 1023Q306 961 223 930V1104Q372 1174 484 1274Q596 1374 643 1466H763Z" transform="matrix(0.0104 0 0 -0.0104 0 0)"/><path d="M763 0H583V1147Q518 1085 412 1023Q306 961 223 930V1104Q372 1174 484 1274Q596 1374 643 1466H763Z" transform="matrix(0.0104 0 0 -0.0104 29.61 0)"/></g><path d="M169.5 903.6L179.7 913.6M169.5 913.6L179.7 903.6" stroke="#000" stroke-width="1.4" fill="none"/><g transform="translate(184.8 914.1)"><text x="0" y="0" font-size="21.3" transform="scale(1 1.0407)"> 0</text><path d="M763 0H583V1147Q518 1085 412 1023Q306 961 223 930V1104Q372 1174 484 1274Q596 1374 643 1466H763Z" transform="matrix(0.0104 0 0 -0.0104 0 0)"/></g><g transform="translate(208.2 903.9)"><text x="0" y="0" font-size="15.6" transform="scale(1 1.0407)">−6</text></g></g>
<g><g transform="translate(1132.8 592.5)"><text x="-34.33" y="0" font-size="21.3" font-style="italic" transform="scale(1 1.0407)">EFR3A</text></g><path d="M827.16 976.7V612.4" stroke="#000" stroke-width="2" fill="none" stroke-linecap="square"/><path d="M827.16 976.7H821.16M827.16 903.84H821.16M827.16 830.98H821.16M827.16 758.12H821.16M827.16 685.26H821.16M827.16 612.4H821.16" stroke="#000" stroke-width="2" fill="none"/><g transform="translate(813.6 976.7) rotate(-90)"><text x="-14.8" y="0" font-size="21.3" transform="scale(1 1.0407)">0.0</text></g><g transform="translate(813.6 903.84) rotate(-90)"><text x="-14.8" y="0" font-size="21.3" transform="scale(1 1.0407)">0.2</text></g><g transform="translate(813.6 830.98) rotate(-90)"><text x="-14.8" y="0" font-size="21.3" transform="scale(1 1.0407)">0.4</text></g><g transform="translate(813.6 758.12) rotate(-90)"><text x="-14.8" y="0" font-size="21.3" transform="scale(1 1.0407)">0.6</text></g><g transform="translate(813.6 685.26) rotate(-90)"><text x="-14.8" y="0" font-size="21.3" transform="scale(1 1.0407)">0.8</text></g><g transform="translate(813.6 612.4) rotate(-90)"><text x="-14.8" y="0" font-size="21.3" transform="scale(1 1.0407)"> .0</text><path d="M763 0H583V1147Q518 1085 412 1023Q306 961 223 930V1104Q372 1174 484 1274Q596 1374 643 1466H763Z" transform="matrix(0.0104 0 0 -0.0104 -14.8 0)"/></g><text transform="translate(784.3 794.6) rotate(-90)" font-size="21.3" text-anchor="middle">survival without MACE</text><path d="M850 991.3H1415.5" stroke="#000" stroke-width="2" fill="none" stroke-linecap="square"/><path d="M850 991.3V994.7M944.25 991.3V994.7M1038.5 991.3V994.7M1132.75 991.3V994.7M1227 991.3V994.7M1321.25 991.3V994.7M1415.5 991.3V994.7" stroke="#000" stroke-width="2" fill="none"/><g transform="translate(850 1015.8)"><text x="-5.92" y="0" font-size="21.3" transform="scale(1 1.0407)">0</text></g><g transform="translate(944.25 1015.8)"><text x="-5.92" y="0" font-size="21.3" transform="scale(1 1.0407)">3</text></g><g transform="translate(1038.5 1015.8)"><text x="-5.92" y="0" font-size="21.3" transform="scale(1 1.0407)">6</text></g><g transform="translate(1132.75 1015.8)"><text x="-5.92" y="0" font-size="21.3" transform="scale(1 1.0407)">9</text></g><g transform="translate(1227 1015.8)"><text x="-11.85" y="0" font-size="21.3" transform="scale(1 1.0407)"> 2</text><path d="M763 0H583V1147Q518 1085 412 1023Q306 961 223 930V1104Q372 1174 484 1274Q596 1374 643 1466H763Z" transform="matrix(0.0104 0 0 -0.0104 -11.85 0)"/></g><g transform="translate(1321.25 1015.8)"><text x="-11.85" y="0" font-size="21.3" transform="scale(1 1.0407)"> 5</text><path d="M763 0H583V1147Q518 1085 412 1023Q306 961 223 930V1104Q372 1174 484 1274Q596 1374 643 1466H763Z" transform="matrix(0.0104 0 0 -0.0104 -11.85 0)"/></g><g transform="translate(1415.5 1015.8)"><text x="-11.85" y="0" font-size="21.3" transform="scale(1 1.0407)"> 8</text><path d="M763 0H583V1147Q518 1085 412 1023Q306 961 223 930V1104Q372 1174 484 1274Q596 1374 643 1466H763Z" transform="matrix(0.0104 0 0 -0.0104 -11.85 0)"/></g><text x="1132.95" y="1045.1" font-size="21.3" text-anchor="middle">Time(month)</text><text x="826.1" y="1062.4" font-size="21.3">No. at Risk</text><g transform="translate(850 1085)"><text x="-21.36" y="0" font-size="19.2" transform="scale(1 1.0407)"> 504</text><path d="M763 0H583V1147Q518 1085 412 1023Q306 961 223 930V1104Q372 1174 484 1274Q596 1374 643 1466H763Z" transform="matrix(0.00937 0 0 -0.00937 -21.36 0)"/></g><g transform="translate(944.95 1085)"><text x="-42.71" y="0" font-size="19.2" transform="scale(1 1.0407)"> 48 </text><path d="M763 0H583V1147Q518 1085 412 1023Q306 961 223 930V1104Q372 1174 484 1274Q596 1374 643 1466H763Z" transform="matrix(0.00937 0 0 -0.00937 -42.71 0)"/><path d="M763 0H583V1147Q518 1085 412 1023Q306 961 223 930V1104Q372 1174 484 1274Q596 1374 643 1466H763Z" transform="matrix(0.00937 0 0 -0.00937 -10.68 0)"/></g><g transform="translate(1039.2 1085)"><text x="-42.71" y="0" font-size="19.2" transform="scale(1 1.0407)"> 4 7</text><path d="M763 0H583V1147Q518 1085 412 1023Q306 961 223 930V1104Q372 1174 484 1274Q596 1374 643 1466H763Z" transform="matrix(0.00937 0 0 -0.00937 -42.71 0)"/><path d="M763 0H583V1147Q518 1085 412 1023Q306 961 223 930V1104Q372 1174 484 1274Q596 1374 643 1466H763Z" transform="matrix(0.00937 0 0 -0.00937 -21.36 0)"/></g><g transform="translate(1133.45 1085)"><text x="-42.71" y="0" font-size="19.2" transform="scale(1 1.0407)"> 295</text><path d="M763 0H583V1147Q518 1085 412 1023Q306 961 223 930V1104Q372 1174 484 1274Q596 1374 643 1466H763Z" transform="matrix(0.00937 0 0 -0.00937 -42.71 0)"/></g><g transform="translate(1227.7 1085)"><text x="-42.71" y="0" font-size="19.2" transform="scale(1 1.0407)">  99</text><path d="M763 0H583V1147Q518 1085 412 1023Q306 961 223 930V1104Q372 1174 484 1274Q596 1374 643 1466H763Z" transform="matrix(0.00937 0 0 -0.00937 -42.71 0)"/><path d="M763 0H583V1147Q518 1085 412 1023Q306 961 223 930V1104Q372 1174 484 1274Q596 1374 643 1466H763Z" transform="matrix(0.00937 0 0 -0.00937 -32.03 0)"/></g><g transform="translate(1321.95 1085)"><text x="-32.03" y="0" font-size="19.2" transform="scale(1 1.0407)">977</text></g><g transform="translate(1416.2 1085)"><text x="-32.03" y="0" font-size="19.2" transform="scale(1 1.0407)">583</text></g><g transform="translate(1429.42 1085)"><text x="0" y="0" font-size="19.2" transform="scale(1 1.0407)">CC</text></g><g transform="translate(850 1112.7)"><text x="-16.02" y="0" font-size="19.2" transform="scale(1 1.0407)"> 94</text><path d="M763 0H583V1147Q518 1085 412 1023Q306 961 223 930V1104Q372 1174 484 1274Q596 1374 643 1466H763Z" transform="matrix(0.00937 0 0 -0.00937 -16.02 0)"/></g><g transform="translate(944.95 1112.7)"><text x="-32.03" y="0" font-size="19.2" transform="scale(1 1.0407)"> 86</text><path d="M763 0H583V1147Q518 1085 412 1023Q306 961 223 930V1104Q372 1174 484 1274Q596 1374 643 1466H763Z" transform="matrix(0.00937 0 0 -0.00937 -32.03 0)"/></g><g transform="translate(1039.2 1112.7)"><text x="-32.03" y="0" font-size="19.2" transform="scale(1 1.0407)"> 72</text><path d="M763 0H583V1147Q518 1085 412 1023Q306 961 223 930V1104Q372 1174 484 1274Q596 1374 643 1466H763Z" transform="matrix(0.00937 0 0 -0.00937 -32.03 0)"/></g><g transform="translate(1133.45 1112.7)"><text x="-32.03" y="0" font-size="19.2" transform="scale(1 1.0407)"> 53</text><path d="M763 0H583V1147Q518 1085 412 1023Q306 961 223 930V1104Q372 1174 484 1274Q596 1374 643 1466H763Z" transform="matrix(0.00937 0 0 -0.00937 -32.03 0)"/></g><g transform="translate(1227.7 1112.7)"><text x="-32.03" y="0" font-size="19.2" transform="scale(1 1.0407)"> 4 </text><path d="M763 0H583V1147Q518 1085 412 1023Q306 961 223 930V1104Q372 1174 484 1274Q596 1374 643 1466H763Z" transform="matrix(0.00937 0 0 -0.00937 -32.03 0)"/><path d="M763 0H583V1147Q518 1085 412 1023Q306 961 223 930V1104Q372 1174 484 1274Q596 1374 643 1466H763Z" transform="matrix(0.00937 0 0 -0.00937 -10.68 0)"/></g><g transform="translate(1321.95 1112.7)"><text x="-32.03" y="0" font-size="19.2" transform="scale(1 1.0407)">  3</text><path d="M763 0H583V1147Q518 1085 412 1023Q306 961 223 930V1104Q372 1174 484 1274Q596 1374 643 1466H763Z" transform="matrix(0.00937 0 0 -0.00937 -32.03 0)"/><path d="M763 0H583V1147Q518 1085 412 1023Q306 961 223 930V1104Q372 1174 484 1274Q596 1374 643 1466H763Z" transform="matrix(0.00937 0 0 -0.00937 -21.36 0)"/></g><g transform="translate(1416.2 1112.7)"><text x="-21.36" y="0" font-size="19.2" transform="scale(1 1.0407)">66</text></g><g transform="translate(1429.43 1112.7)"><text x="0" y="0" font-size="19.2" transform="scale(1 1.0407)">GC</text></g><g transform="translate(850 1139.8)"><text x="-5.34" y="0" font-size="19.2" transform="scale(1 1.0407)">5</text></g><g transform="translate(944.95 1139.8)"><text x="-10.68" y="0" font-size="19.2" transform="scale(1 1.0407)">5</text></g><g transform="translate(1039.2 1139.8)"><text x="-10.68" y="0" font-size="19.2" transform="scale(1 1.0407)">5</text></g><g transform="translate(1133.45 1139.8)"><text x="-10.68" y="0" font-size="19.2" transform="scale(1 1.0407)">5</text></g><g transform="translate(1227.7 1139.8)"><text x="-10.68" y="0" font-size="19.2" transform="scale(1 1.0407)">2</text></g><g transform="translate(1321.95 1139.8)"><path d="M763 0H583V1147Q518 1085 412 1023Q306 961 223 930V1104Q372 1174 484 1274Q596 1374 643 1466H763Z" transform="matrix(0.00937 0 0 -0.00937 -10.68 0)"/></g><g transform="translate(1429.43 1139.8)"><text x="0" y="0" font-size="19.2" transform="scale(1 1.0407)">GG</text></g><path d="M850 612.3H858.8V613.7H882.8V615.4H912.3V616.2H944.5V616.7H975.4V618.1H1004.9V618.9H1037.7V621.5H1068.6V623.7H1102.2V625H1124.8V625.7H1133V626.3H1163.3V628.1H1196.2V630.2H1227V633.1H1257.8V634H1290.5V635.2H1321.7V636H1355.2V637.2H1385.6V638.4H1415.5" stroke="#0000ff" stroke-width="3" fill="none" stroke-linecap="round" stroke-linejoin="round"/><path d="M850 612.3H850.5V614.4H856.7V617.6H868.4V619.5H880V623.3H910.2V625.4H943.8V629.1H974V632.6H1004.2V635H1008.3V638.4H1037.7V642.5H1068.6V644.6H1071.4V646.4H1102.2V648.7H1121.4V650.8H1133V653.1H1196.9V655.1H1227V657.4H1257V660.1H1290.5V662.8H1384.8V670H1415.5" stroke="#00ff00" stroke-width="3" fill="none" stroke-linecap="round" stroke-linejoin="round"/><path d="M850 612.3H1291V794.4H1352" stroke="#ff0000" stroke-width="3" fill="none" stroke-linecap="round" stroke-linejoin="round"/><g transform="translate(1398.8 634.2)" fill="#0000ff"><text x="-13.14" y="0" font-size="18.2" fill="#0000ff" transform="scale(1 1.0407)">CC</text></g><g transform="translate(1371.3 686.8)" fill="#00ff00"><text x="-13.65" y="0" font-size="18.2" fill="#00ff00" transform="scale(1 1.0407)">GC</text></g><g transform="translate(1276.6 810.9)" fill="#ff0000"><text x="-14.16" y="0" font-size="18.2" fill="#ff0000" transform="scale(1 1.0407)">GG</text></g><g transform="translate(862.6 914.1)"><text x="0" y="0" font-size="21.3" font-style="italic" transform="scale(1 1.0407)">P</text></g><text x="879.1" y="914.1" font-size="21.3">=</text><g transform="translate(892.1 914.1)"><text x="0" y="0" font-size="21.3" transform="scale(1 1.0407)">2.52</text></g><path d="M937.6 903.6L947.8 913.6M937.6 913.6L947.8 903.6" stroke="#000" stroke-width="1.4" fill="none"/><g transform="translate(952.9 914.1)"><text x="0" y="0" font-size="21.3" transform="scale(1 1.0407)"> 0</text><path d="M763 0H583V1147Q518 1085 412 1023Q306 961 223 930V1104Q372 1174 484 1274Q596 1374 643 1466H763Z" transform="matrix(0.0104 0 0 -0.0104 0 0)"/></g><g transform="translate(976.3 903.9)"><text x="0" y="0" font-size="15.6" transform="scale(1 1.0407)">−6</text></g></g>
<g><g transform="translate(364.7 1168.5)"><text x="-35.52" y="0" font-size="21.3" font-style="italic" transform="scale(1 1.0407)">AGAP3</text></g><path d="M59.06 1552.7V1188.4" stroke="#000" stroke-width="2" fill="none" stroke-linecap="square"/><path d="M59.06 1552.7H53.06M59.06 1479.84H53.06M59.06 1406.98H53.06M59.06 1334.12H53.06M59.06 1261.26H53.06M59.06 1188.4H53.06" stroke="#000" stroke-width="2" fill="none"/><g transform="translate(45.5 1552.7) rotate(-90)"><text x="-14.8" y="0" font-size="21.3" transform="scale(1 1.0407)">0.0</text></g><g transform="translate(45.5 1479.84) rotate(-90)"><text x="-14.8" y="0" font-size="21.3" transform="scale(1 1.0407)">0.2</text></g><g transform="translate(45.5 1406.98) rotate(-90)"><text x="-14.8" y="0" font-size="21.3" transform="scale(1 1.0407)">0.4</text></g><g transform="translate(45.5 1334.12) rotate(-90)"><text x="-14.8" y="0" font-size="21.3" transform="scale(1 1.0407)">0.6</text></g><g transform="translate(45.5 1261.26) rotate(-90)"><text x="-14.8" y="0" font-size="21.3" transform="scale(1 1.0407)">0.8</text></g><g transform="translate(45.5 1188.4) rotate(-90)"><text x="-14.8" y="0" font-size="21.3" transform="scale(1 1.0407)"> .0</text><path d="M763 0H583V1147Q518 1085 412 1023Q306 961 223 930V1104Q372 1174 484 1274Q596 1374 643 1466H763Z" transform="matrix(0.0104 0 0 -0.0104 -14.8 0)"/></g><text transform="translate(16.2 1370.6) rotate(-90)" font-size="21.3" text-anchor="middle">survival without MACE</text><path d="M81.9 1567.3H647.4" stroke="#000" stroke-width="2" fill="none" stroke-linecap="square"/><path d="M81.9 1567.3V1570.7M176.15 1567.3V1570.7M270.4 1567.3V1570.7M364.65 1567.3V1570.7M458.9 1567.3V1570.7M553.15 1567.3V1570.7M647.4 1567.3V1570.7" stroke="#000" stroke-width="2" fill="none"/><g transform="translate(81.9 1591.8)"><text x="-5.92" y="0" font-size="21.3" transform="scale(1 1.0407)">0</text></g><g transform="translate(176.15 1591.8)"><text x="-5.92" y="0" font-size="21.3" transform="scale(1 1.0407)">3</text></g><g transform="translate(270.4 1591.8)"><text x="-5.92" y="0" font-size="21.3" transform="scale(1 1.0407)">6</text></g><g transform="translate(364.65 1591.8)"><text x="-5.92" y="0" font-size="21.3" transform="scale(1 1.0407)">9</text></g><g transform="translate(458.9 1591.8)"><text x="-11.85" y="0" font-size="21.3" transform="scale(1 1.0407)"> 2</text><path d="M763 0H583V1147Q518 1085 412 1023Q306 961 223 930V1104Q372 1174 484 1274Q596 1374 643 1466H763Z" transform="matrix(0.0104 0 0 -0.0104 -11.85 0)"/></g><g transform="translate(553.15 1591.8)"><text x="-11.85" y="0" font-size="21.3" transform="scale(1 1.0407)"> 5</text><path d="M763 0H583V1147Q518 1085 412 1023Q306 961 223 930V1104Q372 1174 484 1274Q596 1374 643 1466H763Z" transform="matrix(0.0104 0 0 -0.0104 -11.85 0)"/></g><g transform="translate(647.4 1591.8)"><text x="-11.85" y="0" font-size="21.3" transform="scale(1 1.0407)"> 8</text><path d="M763 0H583V1147Q518 1085 412 1023Q306 961 223 930V1104Q372 1174 484 1274Q596 1374 643 1466H763Z" transform="matrix(0.0104 0 0 -0.0104 -11.85 0)"/></g><text x="364.85" y="1621.1" font-size="21.3" text-anchor="middle">Time(month)</text><text x="58" y="1638.4" font-size="21.3">No. at Risk</text><g transform="translate(81.9 1661)"><text x="-5.34" y="0" font-size="19.2" transform="scale(1 1.0407)">2</text></g><g transform="translate(176.85 1661)"><text x="-10.68" y="0" font-size="19.2" transform="scale(1 1.0407)">2</text></g><g transform="translate(271.1 1661)"><text x="-10.68" y="0" font-size="19.2" transform="scale(1 1.0407)">2</text></g><g transform="translate(365.35 1661)"><path d="M763 0H583V1147Q518 1085 412 1023Q306 961 223 930V1104Q372 1174 484 1274Q596 1374 643 1466H763Z" transform="matrix(0.00937 0 0 -0.00937 -10.68 0)"/></g><g transform="translate(459.6 1661)"><path d="M763 0H583V1147Q518 1085 412 1023Q306 961 223 930V1104Q372 1174 484 1274Q596 1374 643 1466H763Z" transform="matrix(0.00937 0 0 -0.00937 -10.68 0)"/></g><g transform="translate(553.85 1661)"><path d="M763 0H583V1147Q518 1085 412 1023Q306 961 223 930V1104Q372 1174 484 1274Q596 1374 643 1466H763Z" transform="matrix(0.00937 0 0 -0.00937 -10.68 0)"/></g><g transform="translate(648.1 1661)"><path d="M763 0H583V1147Q518 1085 412 1023Q306 961 223 930V1104Q372 1174 484 1274Q596 1374 643 1466H763Z" transform="matrix(0.00937 0 0 -0.00937 -10.68 0)"/></g><g transform="translate(662.26 1661)"><text x="0" y="0" font-size="19.2" transform="scale(1 1.0407)">AA</text></g><g transform="translate(81.9 1688.7)"><text x="-10.68" y="0" font-size="19.2" transform="scale(1 1.0407)">69</text></g><g transform="translate(176.85 1688.7)"><text x="-21.36" y="0" font-size="19.2" transform="scale(1 1.0407)">64</text></g><g transform="translate(271.1 1688.7)"><text x="-21.36" y="0" font-size="19.2" transform="scale(1 1.0407)">6 </text><path d="M763 0H583V1147Q518 1085 412 1023Q306 961 223 930V1104Q372 1174 484 1274Q596 1374 643 1466H763Z" transform="matrix(0.00937 0 0 -0.00937 -10.68 0)"/></g><g transform="translate(365.35 1688.7)"><text x="-21.36" y="0" font-size="19.2" transform="scale(1 1.0407)">54</text></g><g transform="translate(459.6 1688.7)"><text x="-21.36" y="0" font-size="19.2" transform="scale(1 1.0407)">46</text></g><g transform="translate(553.85 1688.7)"><text x="-21.36" y="0" font-size="19.2" transform="scale(1 1.0407)">35</text></g><g transform="translate(648.1 1688.7)"><text x="-21.36" y="0" font-size="19.2" transform="scale(1 1.0407)"> 6</text><path d="M763 0H583V1147Q518 1085 412 1023Q306 961 223 930V1104Q372 1174 484 1274Q596 1374 643 1466H763Z" transform="matrix(0.00937 0 0 -0.00937 -21.36 0)"/></g><g transform="translate(662.26 1688.7)"><text x="0" y="0" font-size="19.2" transform="scale(1 1.0407)">AT</text></g><g transform="translate(81.9 1715.8)"><text x="-21.36" y="0" font-size="19.2" transform="scale(1 1.0407)"> 632</text><path d="M763 0H583V1147Q518 1085 412 1023Q306 961 223 930V1104Q372 1174 484 1274Q596 1374 643 1466H763Z" transform="matrix(0.00937 0 0 -0.00937 -21.36 0)"/></g><g transform="translate(176.85 1715.8)"><text x="-42.71" y="0" font-size="19.2" transform="scale(1 1.0407)"> 606</text><path d="M763 0H583V1147Q518 1085 412 1023Q306 961 223 930V1104Q372 1174 484 1274Q596 1374 643 1466H763Z" transform="matrix(0.00937 0 0 -0.00937 -42.71 0)"/></g><g transform="translate(271.1 1715.8)"><text x="-42.71" y="0" font-size="19.2" transform="scale(1 1.0407)"> 53 </text><path d="M763 0H583V1147Q518 1085 412 1023Q306 961 223 930V1104Q372 1174 484 1274Q596 1374 643 1466H763Z" transform="matrix(0.00937 0 0 -0.00937 -42.71 0)"/><path d="M763 0H583V1147Q518 1085 412 1023Q306 961 223 930V1104Q372 1174 484 1274Q596 1374 643 1466H763Z" transform="matrix(0.00937 0 0 -0.00937 -10.68 0)"/></g><g transform="translate(365.35 1715.8)"><text x="-42.71" y="0" font-size="19.2" transform="scale(1 1.0407)"> 398</text><path d="M763 0H583V1147Q518 1085 412 1023Q306 961 223 930V1104Q372 1174 484 1274Q596 1374 643 1466H763Z" transform="matrix(0.00937 0 0 -0.00937 -42.71 0)"/></g><g transform="translate(459.6 1715.8)"><text x="-42.71" y="0" font-size="19.2" transform="scale(1 1.0407)"> 295</text><path d="M763 0H583V1147Q518 1085 412 1023Q306 961 223 930V1104Q372 1174 484 1274Q596 1374 643 1466H763Z" transform="matrix(0.00937 0 0 -0.00937 -42.71 0)"/></g><g transform="translate(553.85 1715.8)"><text x="-42.71" y="0" font-size="19.2" transform="scale(1 1.0407)"> 055</text><path d="M763 0H583V1147Q518 1085 412 1023Q306 961 223 930V1104Q372 1174 484 1274Q596 1374 643 1466H763Z" transform="matrix(0.00937 0 0 -0.00937 -42.71 0)"/></g><g transform="translate(648.1 1715.8)"><text x="-32.03" y="0" font-size="19.2" transform="scale(1 1.0407)">632</text></g><g transform="translate(661.87 1715.8)"><text x="0" y="0" font-size="19.2" transform="scale(1 1.0407)">TT</text></g><path d="M81.9 1188.3H334.6V1370.4H647.4" stroke="#ff0000" stroke-width="3" fill="none" stroke-linecap="round" stroke-linejoin="round"/><path d="M81.9 1188.3H82.5V1193.2H89.4V1198.5H100.4V1204H115.9V1209.3H206.7V1215H270.5V1220.3H300.7V1226H304.5V1231.9H394.6V1244.2H458.4V1250.6H518.9V1257.8H522.8V1266.2H647.4" stroke="#00ff00" stroke-width="3" fill="none" stroke-linecap="round" stroke-linejoin="round"/><path d="M81.9 1188.3H92.8V1189.1H112V1191H142.2V1192.1H176.5V1193.2H206.7V1194.6H236.9V1196.1H270.5V1199.4H300.7V1201.1H335V1202H364.5V1203.8H395.3V1205.2H428.2V1207.2H458.6V1210.1H490.5V1211.3H522.8V1212.2H553.6V1212.9H585.9V1214H617.5V1215.5H647.4" stroke="#0000ff" stroke-width="3" fill="none" stroke-linecap="round" stroke-linejoin="round"/><g transform="translate(534.5 1208.9)" fill="#0000ff"><text x="-11.12" y="0" font-size="18.2" fill="#0000ff" transform="scale(1 1.0407)">TT</text></g><g transform="translate(512.4 1283)" fill="#00ff00"><text x="-11.63" y="0" font-size="18.2" fill="#00ff00" transform="scale(1 1.0407)">AT</text></g><g transform="translate(322.3 1387.1)" fill="#ff0000"><text x="-12.14" y="0" font-size="18.2" fill="#ff0000" transform="scale(1 1.0407)">AA</text></g><g transform="translate(94.5 1490.1)"><text x="0" y="0" font-size="21.3" font-style="italic" transform="scale(1 1.0407)">P</text></g><text x="111" y="1490.1" font-size="21.3">=</text><g transform="translate(124 1490.1)"><text x="0" y="0" font-size="21.3" transform="scale(1 1.0407)">4.85</text></g><path d="M169.5 1479.6L179.7 1489.6M169.5 1489.6L179.7 1479.6" stroke="#000" stroke-width="1.4" fill="none"/><g transform="translate(184.8 1490.1)"><text x="0" y="0" font-size="21.3" transform="scale(1 1.0407)"> 0</text><path d="M763 0H583V1147Q518 1085 412 1023Q306 961 223 930V1104Q372 1174 484 1274Q596 1374 643 1466H763Z" transform="matrix(0.0104 0 0 -0.0104 0 0)"/></g><g transform="translate(208.2 1479.9)"><text x="0" y="0" font-size="15.6" transform="scale(1 1.0407)">−6</text></g></g>
<g><g transform="translate(1132.8 1168.5)"><text x="-43.19" y="0" font-size="21.3" font-style="italic" transform="scale(1 1.0407)">ZDHHC3</text></g><path d="M827.16 1552.7V1188.4" stroke="#000" stroke-width="2" fill="none" stroke-linecap="square"/><path d="M827.16 1552.7H821.16M827.16 1479.84H821.16M827.16 1406.98H821.16M827.16 1334.12H821.16M827.16 1261.26H821.16M827.16 1188.4H821.16" stroke="#000" stroke-width="2" fill="none"/><g transform="translate(813.6 1552.7) rotate(-90)"><text x="-14.8" y="0" font-size="21.3" transform="scale(1 1.0407)">0.0</text></g><g transform="translate(813.6 1479.84) rotate(-90)"><text x="-14.8" y="0" font-size="21.3" transform="scale(1 1.0407)">0.2</text></g><g transform="translate(813.6 1406.98) rotate(-90)"><text x="-14.8" y="0" font-size="21.3" transform="scale(1 1.0407)">0.4</text></g><g transform="translate(813.6 1334.12) rotate(-90)"><text x="-14.8" y="0" font-size="21.3" transform="scale(1 1.0407)">0.6</text></g><g transform="translate(813.6 1261.26) rotate(-90)"><text x="-14.8" y="0" font-size="21.3" transform="scale(1 1.0407)">0.8</text></g><g transform="translate(813.6 1188.4) rotate(-90)"><text x="-14.8" y="0" font-size="21.3" transform="scale(1 1.0407)"> .0</text><path d="M763 0H583V1147Q518 1085 412 1023Q306 961 223 930V1104Q372 1174 484 1274Q596 1374 643 1466H763Z" transform="matrix(0.0104 0 0 -0.0104 -14.8 0)"/></g><text transform="translate(784.3 1370.6) rotate(-90)" font-size="21.3" text-anchor="middle">survival without MACE</text><path d="M850 1567.3H1415.5" stroke="#000" stroke-width="2" fill="none" stroke-linecap="square"/><path d="M850 1567.3V1570.7M944.25 1567.3V1570.7M1038.5 1567.3V1570.7M1132.75 1567.3V1570.7M1227 1567.3V1570.7M1321.25 1567.3V1570.7M1415.5 1567.3V1570.7" stroke="#000" stroke-width="2" fill="none"/><g transform="translate(850 1591.8)"><text x="-5.92" y="0" font-size="21.3" transform="scale(1 1.0407)">0</text></g><g transform="translate(944.25 1591.8)"><text x="-5.92" y="0" font-size="21.3" transform="scale(1 1.0407)">3</text></g><g transform="translate(1038.5 1591.8)"><text x="-5.92" y="0" font-size="21.3" transform="scale(1 1.0407)">6</text></g><g transform="translate(1132.75 1591.8)"><text x="-5.92" y="0" font-size="21.3" transform="scale(1 1.0407)">9</text></g><g transform="translate(1227 1591.8)"><text x="-11.85" y="0" font-size="21.3" transform="scale(1 1.0407)"> 2</text><path d="M763 0H583V1147Q518 1085 412 1023Q306 961 223 930V1104Q372 1174 484 1274Q596 1374 643 1466H763Z" transform="matrix(0.0104 0 0 -0.0104 -11.85 0)"/></g><g transform="translate(1321.25 1591.8)"><text x="-11.85" y="0" font-size="21.3" transform="scale(1 1.0407)"> 5</text><path d="M763 0H583V1147Q518 1085 412 1023Q306 961 223 930V1104Q372 1174 484 1274Q596 1374 643 1466H763Z" transform="matrix(0.0104 0 0 -0.0104 -11.85 0)"/></g><g transform="translate(1415.5 1591.8)"><text x="-11.85" y="0" font-size="21.3" transform="scale(1 1.0407)"> 8</text><path d="M763 0H583V1147Q518 1085 412 1023Q306 961 223 930V1104Q372 1174 484 1274Q596 1374 643 1466H763Z" transform="matrix(0.0104 0 0 -0.0104 -11.85 0)"/></g><text x="1132.95" y="1621.1" font-size="21.3" text-anchor="middle">Time(month)</text><text x="826.1" y="1638.4" font-size="21.3">No. at Risk</text><g transform="translate(850 1661)"><path d="M763 0H583V1147Q518 1085 412 1023Q306 961 223 930V1104Q372 1174 484 1274Q596 1374 643 1466H763Z" transform="matrix(0.00937 0 0 -0.00937 -5.34 0)"/></g><g transform="translate(944.95 1661)"><path d="M763 0H583V1147Q518 1085 412 1023Q306 961 223 930V1104Q372 1174 484 1274Q596 1374 643 1466H763Z" transform="matrix(0.00937 0 0 -0.00937 -10.68 0)"/></g><g transform="translate(1039.2 1661)"><path d="M763 0H583V1147Q518 1085 412 1023Q306 961 223 930V1104Q372 1174 484 1274Q596 1374 643 1466H763Z" transform="matrix(0.00937 0 0 -0.00937 -10.68 0)"/></g><g transform="translate(1133.45 1661)"><path d="M763 0H583V1147Q518 1085 412 1023Q306 961 223 930V1104Q372 1174 484 1274Q596 1374 643 1466H763Z" transform="matrix(0.00937 0 0 -0.00937 -10.68 0)"/></g><g transform="translate(1227.7 1661)"><path d="M763 0H583V1147Q518 1085 412 1023Q306 961 223 930V1104Q372 1174 484 1274Q596 1374 643 1466H763Z" transform="matrix(0.00937 0 0 -0.00937 -10.68 0)"/></g><g transform="translate(1321.95 1661)"><path d="M763 0H583V1147Q518 1085 412 1023Q306 961 223 930V1104Q372 1174 484 1274Q596 1374 643 1466H763Z" transform="matrix(0.00937 0 0 -0.00937 -10.68 0)"/></g><g transform="translate(1416.2 1661)"><path d="M763 0H583V1147Q518 1085 412 1023Q306 961 223 930V1104Q372 1174 484 1274Q596 1374 643 1466H763Z" transform="matrix(0.00937 0 0 -0.00937 -10.68 0)"/></g><g transform="translate(1430.36 1661)"><text x="0" y="0" font-size="19.2" transform="scale(1 1.0407)">AA</text></g><g transform="translate(850 1688.7)"><text x="-10.68" y="0" font-size="19.2" transform="scale(1 1.0407)">89</text></g><g transform="translate(944.95 1688.7)"><text x="-21.36" y="0" font-size="19.2" transform="scale(1 1.0407)">86</text></g><g transform="translate(1039.2 1688.7)"><text x="-21.36" y="0" font-size="19.2" transform="scale(1 1.0407)">75</text></g><g transform="translate(1133.45 1688.7)"><text x="-21.36" y="0" font-size="19.2" transform="scale(1 1.0407)">66</text></g><g transform="translate(1227.7 1688.7)"><text x="-21.36" y="0" font-size="19.2" transform="scale(1 1.0407)">58</text></g><g transform="translate(1321.95 1688.7)"><text x="-21.36" y="0" font-size="19.2" transform="scale(1 1.0407)">46</text></g><g transform="translate(1416.2 1688.7)"><text x="-21.36" y="0" font-size="19.2" transform="scale(1 1.0407)">25</text></g><g transform="translate(1430.36 1688.7)"><text x="0" y="0" font-size="19.2" transform="scale(1 1.0407)">AG</text></g><g transform="translate(850 1715.8)"><text x="-21.36" y="0" font-size="19.2" transform="scale(1 1.0407)"> 6 3</text><path d="M763 0H583V1147Q518 1085 412 1023Q306 961 223 930V1104Q372 1174 484 1274Q596 1374 643 1466H763Z" transform="matrix(0.00937 0 0 -0.00937 -21.36 0)"/><path d="M763 0H583V1147Q518 1085 412 1023Q306 961 223 930V1104Q372 1174 484 1274Q596 1374 643 1466H763Z" transform="matrix(0.00937 0 0 -0.00937 0 0)"/></g><g transform="translate(944.95 1715.8)"><text x="-42.71" y="0" font-size="19.2" transform="scale(1 1.0407)"> 585</text><path d="M763 0H583V1147Q518 1085 412 1023Q306 961 223 930V1104Q372 1174 484 1274Q596 1374 643 1466H763Z" transform="matrix(0.00937 0 0 -0.00937 -42.71 0)"/></g><g transform="translate(1039.2 1715.8)"><text x="-42.71" y="0" font-size="19.2" transform="scale(1 1.0407)"> 5 8</text><path d="M763 0H583V1147Q518 1085 412 1023Q306 961 223 930V1104Q372 1174 484 1274Q596 1374 643 1466H763Z" transform="matrix(0.00937 0 0 -0.00937 -42.71 0)"/><path d="M763 0H583V1147Q518 1085 412 1023Q306 961 223 930V1104Q372 1174 484 1274Q596 1374 643 1466H763Z" transform="matrix(0.00937 0 0 -0.00937 -21.36 0)"/></g><g transform="translate(1133.45 1715.8)"><text x="-42.71" y="0" font-size="19.2" transform="scale(1 1.0407)"> 386</text><path d="M763 0H583V1147Q518 1085 412 1023Q306 961 223 930V1104Q372 1174 484 1274Q596 1374 643 1466H763Z" transform="matrix(0.00937 0 0 -0.00937 -42.71 0)"/></g><g transform="translate(1227.7 1715.8)"><text x="-42.71" y="0" font-size="19.2" transform="scale(1 1.0407)"> 283</text><path d="M763 0H583V1147Q518 1085 412 1023Q306 961 223 930V1104Q372 1174 484 1274Q596 1374 643 1466H763Z" transform="matrix(0.00937 0 0 -0.00937 -42.71 0)"/></g><g transform="translate(1321.95 1715.8)"><text x="-42.71" y="0" font-size="19.2" transform="scale(1 1.0407)"> 044</text><path d="M763 0H583V1147Q518 1085 412 1023Q306 961 223 930V1104Q372 1174 484 1274Q596 1374 643 1466H763Z" transform="matrix(0.00937 0 0 -0.00937 -42.71 0)"/></g><g transform="translate(1416.2 1715.8)"><text x="-32.03" y="0" font-size="19.2" transform="scale(1 1.0407)">623</text></g><g transform="translate(1429.43 1715.8)"><text x="0" y="0" font-size="19.2" transform="scale(1 1.0407)">GG</text></g><path d="M850 1188.3H1415.5" stroke="#ff0000" stroke-width="3" fill="none" stroke-linecap="round" stroke-linejoin="round"/><path d="M850 1188.3H856.7V1191.5H860.8V1196.3H868.7V1200.1H944.5V1204.5H974.7V1212.7H978.1V1216.8H1004.9V1221H1037.7V1225.1H1068.6V1229.5H1072V1234.3H1102.9V1239.1H1196.9V1244.2H1227V1249.7H1261V1255.8H1291.3V1261.7H1385.6V1272.1H1415.5" stroke="#00ff00" stroke-width="3" fill="none" stroke-linecap="round" stroke-linejoin="round"/><path d="M850 1188.3H856.7V1188.7H880V1190.8H884.2V1191.5H911.6V1192.4H944.5V1193.2H974.7V1194.5H1005.5V1195.6H1037.7V1198.3H1068.6V1200.4H1102.2V1201.5H1122.8V1202.2H1133V1203.4H1163.3V1205.2H1196.2V1207H1227V1209.7H1257.8V1210.9H1290.5V1211.8H1321.7V1212.6H1355.2V1214.1H1385.6V1215.5H1415.5" stroke="#0000ff" stroke-width="3" fill="none" stroke-linecap="round" stroke-linejoin="round"/><g transform="translate(1416.36 1184.7)" fill="#ff0000"><text x="0" y="0" font-size="18.2" fill="#ff0000" transform="scale(1 1.0407)">AA</text></g><g transform="translate(1416.56 1233.2)" fill="#0000ff"><text x="-28.31" y="0" font-size="18.2" fill="#0000ff" transform="scale(1 1.0407)">GG</text></g><g transform="translate(1371.9 1288.3)" fill="#00ff00"><text x="-13.15" y="0" font-size="18.2" fill="#00ff00" transform="scale(1 1.0407)">AG</text></g><g transform="translate(862.6 1490.1)"><text x="0" y="0" font-size="21.3" font-style="italic" transform="scale(1 1.0407)">P</text></g><text x="879.1" y="1490.1" font-size="21.3">=</text><g transform="translate(892.1 1490.1)"><text x="0" y="0" font-size="21.3" transform="scale(1 1.0407)">5. 9</text><path d="M763 0H583V1147Q518 1085 412 1023Q306 961 223 930V1104Q372 1174 484 1274Q596 1374 643 1466H763Z" transform="matrix(0.0104 0 0 -0.0104 17.76 0)"/></g><path d="M937.6 1479.6L947.8 1489.6M937.6 1489.6L947.8 1479.6" stroke="#000" stroke-width="1.4" fill="none"/><g transform="translate(952.9 1490.1)"><text x="0" y="0" font-size="21.3" transform="scale(1 1.0407)"> 0</text><path d="M763 0H583V1147Q518 1085 412 1023Q306 961 223 930V1104Q372 1174 484 1274Q596 1374 643 1466H763Z" transform="matrix(0.0104 0 0 -0.0104 0 0)"/></g><g transform="translate(976.3 1479.9)"><text x="0" y="0" font-size="15.6" transform="scale(1 1.0407)">−6</text></g></g>
<g><g transform="translate(364.7 1744.5)"><text x="-35.51" y="0" font-size="21.3" font-style="italic" transform="scale(1 1.0407)">ECHS </text><path d="M763 0H583V1147Q518 1085 412 1023Q306 961 223 930V1104Q372 1174 484 1274Q596 1374 643 1466H763Z" transform="matrix(0.0104 0 0.00208 -0.0104 22.78 0)"/></g><path d="M59.06 2128.7V1764.4" stroke="#000" stroke-width="2" fill="none" stroke-linecap="square"/><path d="M59.06 2128.7H53.06M59.06 2055.84H53.06M59.06 1982.98H53.06M59.06 1910.12H53.06M59.06 1837.26H53.06M59.06 1764.4H53.06" stroke="#000" stroke-width="2" fill="none"/><g transform="translate(45.5 2128.7) rotate(-90)"><text x="-14.8" y="0" font-size="21.3" transform="scale(1 1.0407)">0.0</text></g><g transform="translate(45.5 2055.84) rotate(-90)"><text x="-14.8" y="0" font-size="21.3" transform="scale(1 1.0407)">0.2</text></g><g transform="translate(45.5 1982.98) rotate(-90)"><text x="-14.8" y="0" font-size="21.3" transform="scale(1 1.0407)">0.4</text></g><g transform="translate(45.5 1910.12) rotate(-90)"><text x="-14.8" y="0" font-size="21.3" transform="scale(1 1.0407)">0.6</text></g><g transform="translate(45.5 1837.26) rotate(-90)"><text x="-14.8" y="0" font-size="21.3" transform="scale(1 1.0407)">0.8</text></g><g transform="translate(45.5 1764.4) rotate(-90)"><text x="-14.8" y="0" font-size="21.3" transform="scale(1 1.0407)"> .0</text><path d="M763 0H583V1147Q518 1085 412 1023Q306 961 223 930V1104Q372 1174 484 1274Q596 1374 643 1466H763Z" transform="matrix(0.0104 0 0 -0.0104 -14.8 0)"/></g><text transform="translate(16.2 1946.6) rotate(-90)" font-size="21.3" text-anchor="middle">survival without MACE</text><path d="M81.9 2143.3H647.4" stroke="#000" stroke-width="2" fill="none" stroke-linecap="square"/><path d="M81.9 2143.3V2146.7M176.15 2143.3V2146.7M270.4 2143.3V2146.7M364.65 2143.3V2146.7M458.9 2143.3V2146.7M553.15 2143.3V2146.7M647.4 2143.3V2146.7" stroke="#000" stroke-width="2" fill="none"/><g transform="translate(81.9 2167.8)"><text x="-5.92" y="0" font-size="21.3" transform="scale(1 1.0407)">0</text></g><g transform="translate(176.15 2167.8)"><text x="-5.92" y="0" font-size="21.3" transform="scale(1 1.0407)">3</text></g><g transform="translate(270.4 2167.8)"><text x="-5.92" y="0" font-size="21.3" transform="scale(1 1.0407)">6</text></g><g transform="translate(364.65 2167.8)"><text x="-5.92" y="0" font-size="21.3" transform="scale(1 1.0407)">9</text></g><g transform="translate(458.9 2167.8)"><text x="-11.85" y="0" font-size="21.3" transform="scale(1 1.0407)"> 2</text><path d="M763 0H583V1147Q518 1085 412 1023Q306 961 223 930V1104Q372 1174 484 1274Q596 1374 643 1466H763Z" transform="matrix(0.0104 0 0 -0.0104 -11.85 0)"/></g><g transform="translate(553.15 2167.8)"><text x="-11.85" y="0" font-size="21.3" transform="scale(1 1.0407)"> 5</text><path d="M763 0H583V1147Q518 1085 412 1023Q306 961 223 930V1104Q372 1174 484 1274Q596 1374 643 1466H763Z" transform="matrix(0.0104 0 0 -0.0104 -11.85 0)"/></g><g transform="translate(647.4 2167.8)"><text x="-11.85" y="0" font-size="21.3" transform="scale(1 1.0407)"> 8</text><path d="M763 0H583V1147Q518 1085 412 1023Q306 961 223 930V1104Q372 1174 484 1274Q596 1374 643 1466H763Z" transform="matrix(0.0104 0 0 -0.0104 -11.85 0)"/></g><text x="364.85" y="2197.1" font-size="21.3" text-anchor="middle">Time(month)</text><text x="58" y="2214.4" font-size="21.3">No. at Risk</text><g transform="translate(81.9 2237)"><text x="-21.36" y="0" font-size="19.2" transform="scale(1 1.0407)"> 654</text><path d="M763 0H583V1147Q518 1085 412 1023Q306 961 223 930V1104Q372 1174 484 1274Q596 1374 643 1466H763Z" transform="matrix(0.00937 0 0 -0.00937 -21.36 0)"/></g><g transform="translate(176.85 2237)"><text x="-42.71" y="0" font-size="19.2" transform="scale(1 1.0407)"> 626</text><path d="M763 0H583V1147Q518 1085 412 1023Q306 961 223 930V1104Q372 1174 484 1274Q596 1374 643 1466H763Z" transform="matrix(0.00937 0 0 -0.00937 -42.71 0)"/></g><g transform="translate(271.1 2237)"><text x="-42.71" y="0" font-size="19.2" transform="scale(1 1.0407)"> 549</text><path d="M763 0H583V1147Q518 1085 412 1023Q306 961 223 930V1104Q372 1174 484 1274Q596 1374 643 1466H763Z" transform="matrix(0.00937 0 0 -0.00937 -42.71 0)"/></g><g transform="translate(365.35 2237)"><text x="-42.71" y="0" font-size="19.2" transform="scale(1 1.0407)"> 4 4</text><path d="M763 0H583V1147Q518 1085 412 1023Q306 961 223 930V1104Q372 1174 484 1274Q596 1374 643 1466H763Z" transform="matrix(0.00937 0 0 -0.00937 -42.71 0)"/><path d="M763 0H583V1147Q518 1085 412 1023Q306 961 223 930V1104Q372 1174 484 1274Q596 1374 643 1466H763Z" transform="matrix(0.00937 0 0 -0.00937 -21.36 0)"/></g><g transform="translate(459.6 2237)"><text x="-42.71" y="0" font-size="19.2" transform="scale(1 1.0407)"> 305</text><path d="M763 0H583V1147Q518 1085 412 1023Q306 961 223 930V1104Q372 1174 484 1274Q596 1374 643 1466H763Z" transform="matrix(0.00937 0 0 -0.00937 -42.71 0)"/></g><g transform="translate(553.85 2237)"><text x="-42.71" y="0" font-size="19.2" transform="scale(1 1.0407)"> 062</text><path d="M763 0H583V1147Q518 1085 412 1023Q306 961 223 930V1104Q372 1174 484 1274Q596 1374 643 1466H763Z" transform="matrix(0.00937 0 0 -0.00937 -42.71 0)"/></g><g transform="translate(648.1 2237)"><text x="-32.03" y="0" font-size="19.2" transform="scale(1 1.0407)">632</text></g><g transform="translate(661.32 2237)"><text x="0" y="0" font-size="19.2" transform="scale(1 1.0407)">CC</text></g><g transform="translate(81.9 2264.7)"><text x="-10.68" y="0" font-size="19.2" transform="scale(1 1.0407)">48</text></g><g transform="translate(176.85 2264.7)"><text x="-21.36" y="0" font-size="19.2" transform="scale(1 1.0407)">45</text></g><g transform="translate(271.1 2264.7)"><text x="-21.36" y="0" font-size="19.2" transform="scale(1 1.0407)">44</text></g><g transform="translate(365.35 2264.7)"><text x="-21.36" y="0" font-size="19.2" transform="scale(1 1.0407)">38</text></g><g transform="translate(459.6 2264.7)"><text x="-21.36" y="0" font-size="19.2" transform="scale(1 1.0407)">36</text></g><g transform="translate(553.85 2264.7)"><text x="-21.36" y="0" font-size="19.2" transform="scale(1 1.0407)">29</text></g><g transform="translate(648.1 2264.7)"><text x="-21.36" y="0" font-size="19.2" transform="scale(1 1.0407)"> 7</text><path d="M763 0H583V1147Q518 1085 412 1023Q306 961 223 930V1104Q372 1174 484 1274Q596 1374 643 1466H763Z" transform="matrix(0.00937 0 0 -0.00937 -21.36 0)"/></g><g transform="translate(661.87 2264.7)"><text x="0" y="0" font-size="19.2" transform="scale(1 1.0407)">TC</text></g><g transform="translate(81.9 2291.8)"><path d="M763 0H583V1147Q518 1085 412 1023Q306 961 223 930V1104Q372 1174 484 1274Q596 1374 643 1466H763Z" transform="matrix(0.00937 0 0 -0.00937 -5.34 0)"/></g><g transform="translate(176.85 2291.8)"><path d="M763 0H583V1147Q518 1085 412 1023Q306 961 223 930V1104Q372 1174 484 1274Q596 1374 643 1466H763Z" transform="matrix(0.00937 0 0 -0.00937 -10.68 0)"/></g><g transform="translate(271.1 2291.8)"><path d="M763 0H583V1147Q518 1085 412 1023Q306 961 223 930V1104Q372 1174 484 1274Q596 1374 643 1466H763Z" transform="matrix(0.00937 0 0 -0.00937 -10.68 0)"/></g><g transform="translate(365.35 2291.8)"><path d="M763 0H583V1147Q518 1085 412 1023Q306 961 223 930V1104Q372 1174 484 1274Q596 1374 643 1466H763Z" transform="matrix(0.00937 0 0 -0.00937 -10.68 0)"/></g><g transform="translate(459.6 2291.8)"><path d="M763 0H583V1147Q518 1085 412 1023Q306 961 223 930V1104Q372 1174 484 1274Q596 1374 643 1466H763Z" transform="matrix(0.00937 0 0 -0.00937 -10.68 0)"/></g><g transform="translate(661.87 2291.8)"><text x="0" y="0" font-size="19.2" transform="scale(1 1.0407)">TT</text></g><path d="M81.9 1764.1H88.7V1765.8H112V1767.1H116V1767.8H142.2V1768.2H176.5V1769.2H206.7V1770.9H236.9V1772.2H270.5V1775.3H301.4V1776.7H334.3V1778.1H364.5V1779.9H394.6V1781.6H428.2V1783.5H458.6V1786.7H489.7V1787.9H522.8V1788.7H553.6V1789.4H585.9V1790.7H617.5V1792.6H647.4" stroke="#0000ff" stroke-width="3" fill="none" stroke-linecap="round" stroke-linejoin="round"/><path d="M81.9 1764.1H115.5V1771.5H142.2V1779.2H145.9V1787H236.2V1794.3H270.5V1802.1H300.7V1817.2H304.5V1825.2H492.9V1833.9H647.4" stroke="#00ff00" stroke-width="3" fill="none" stroke-linecap="round" stroke-linejoin="round"/><path d="M81.9 1764.1H492.9V2128.4" stroke="#ff0000" stroke-width="3" fill="none" stroke-linecap="round" stroke-linejoin="round"/><g transform="translate(506.5 1783.6)" fill="#0000ff"><text x="-13.14" y="0" font-size="18.2" fill="#0000ff" transform="scale(1 1.0407)">CC</text></g><g transform="translate(292.1 1841.7)" fill="#00ff00"><text x="-12.13" y="0" font-size="18.2" fill="#00ff00" transform="scale(1 1.0407)">TC</text></g><g transform="translate(481.9 2144.9)" fill="#ff0000"><text x="-11.12" y="0" font-size="18.2" fill="#ff0000" transform="scale(1 1.0407)">TT</text></g><g transform="translate(94.5 2066.1)"><text x="0" y="0" font-size="21.3" font-style="italic" transform="scale(1 1.0407)">P</text></g><text x="111" y="2066.1" font-size="21.3">=</text><g transform="translate(124 2066.1)"><text x="0" y="0" font-size="21.3" transform="scale(1 1.0407)">6.88</text></g><path d="M169.5 2055.6L179.7 2065.6M169.5 2065.6L179.7 2055.6" stroke="#000" stroke-width="1.4" fill="none"/><g transform="translate(184.8 2066.1)"><text x="0" y="0" font-size="21.3" transform="scale(1 1.0407)"> 0</text><path d="M763 0H583V1147Q518 1085 412 1023Q306 961 223 930V1104Q372 1174 484 1274Q596 1374 643 1466H763Z" transform="matrix(0.0104 0 0 -0.0104 0 0)"/></g><g transform="translate(208.2 2055.9)"><text x="0" y="0" font-size="15.6" transform="scale(1 1.0407)">−6</text></g></g>
<g><g transform="translate(1132.8 1744.5)"><text x="-59.5" y="0" font-size="21.3" font-style="italic" transform="scale(1 1.0407)">KRTAP 0−4</text><path d="M763 0H583V1147Q518 1085 412 1023Q306 961 223 930V1104Q372 1174 484 1274Q596 1374 643 1466H763Z" transform="matrix(0.0104 0 0.00208 -0.0104 10.63 0)"/></g><path d="M827.16 2128.7V1764.4" stroke="#000" stroke-width="2" fill="none" stroke-linecap="square"/><path d="M827.16 2128.7H821.16M827.16 2055.84H821.16M827.16 1982.98H821.16M827.16 1910.12H821.16M827.16 1837.26H821.16M827.16 1764.4H821.16" stroke="#000" stroke-width="2" fill="none"/><g transform="translate(813.6 2128.7) rotate(-90)"><text x="-14.8" y="0" font-size="21.3" transform="scale(1 1.0407)">0.0</text></g><g transform="translate(813.6 2055.84) rotate(-90)"><text x="-14.8" y="0" font-size="21.3" transform="scale(1 1.0407)">0.2</text></g><g transform="translate(813.6 1982.98) rotate(-90)"><text x="-14.8" y="0" font-size="21.3" transform="scale(1 1.0407)">0.4</text></g><g transform="translate(813.6 1910.12) rotate(-90)"><text x="-14.8" y="0" font-size="21.3" transform="scale(1 1.0407)">0.6</text></g><g transform="translate(813.6 1837.26) rotate(-90)"><text x="-14.8" y="0" font-size="21.3" transform="scale(1 1.0407)">0.8</text></g><g transform="translate(813.6 1764.4) rotate(-90)"><text x="-14.8" y="0" font-size="21.3" transform="scale(1 1.0407)"> .0</text><path d="M763 0H583V1147Q518 1085 412 1023Q306 961 223 930V1104Q372 1174 484 1274Q596 1374 643 1466H763Z" transform="matrix(0.0104 0 0 -0.0104 -14.8 0)"/></g><text transform="translate(784.3 1946.6) rotate(-90)" font-size="21.3" text-anchor="middle">survival without MACE</text><path d="M850 2143.3H1415.5" stroke="#000" stroke-width="2" fill="none" stroke-linecap="square"/><path d="M850 2143.3V2146.7M944.25 2143.3V2146.7M1038.5 2143.3V2146.7M1132.75 2143.3V2146.7M1227 2143.3V2146.7M1321.25 2143.3V2146.7M1415.5 2143.3V2146.7" stroke="#000" stroke-width="2" fill="none"/><g transform="translate(850 2167.8)"><text x="-5.92" y="0" font-size="21.3" transform="scale(1 1.0407)">0</text></g><g transform="translate(944.25 2167.8)"><text x="-5.92" y="0" font-size="21.3" transform="scale(1 1.0407)">3</text></g><g transform="translate(1038.5 2167.8)"><text x="-5.92" y="0" font-size="21.3" transform="scale(1 1.0407)">6</text></g><g transform="translate(1132.75 2167.8)"><text x="-5.92" y="0" font-size="21.3" transform="scale(1 1.0407)">9</text></g><g transform="translate(1227 2167.8)"><text x="-11.85" y="0" font-size="21.3" transform="scale(1 1.0407)"> 2</text><path d="M763 0H583V1147Q518 1085 412 1023Q306 961 223 930V1104Q372 1174 484 1274Q596 1374 643 1466H763Z" transform="matrix(0.0104 0 0 -0.0104 -11.85 0)"/></g><g transform="translate(1321.25 2167.8)"><text x="-11.85" y="0" font-size="21.3" transform="scale(1 1.0407)"> 5</text><path d="M763 0H583V1147Q518 1085 412 1023Q306 961 223 930V1104Q372 1174 484 1274Q596 1374 643 1466H763Z" transform="matrix(0.0104 0 0 -0.0104 -11.85 0)"/></g><g transform="translate(1415.5 2167.8)"><text x="-11.85" y="0" font-size="21.3" transform="scale(1 1.0407)"> 8</text><path d="M763 0H583V1147Q518 1085 412 1023Q306 961 223 930V1104Q372 1174 484 1274Q596 1374 643 1466H763Z" transform="matrix(0.0104 0 0 -0.0104 -11.85 0)"/></g><text x="1132.95" y="2197.1" font-size="21.3" text-anchor="middle">Time(month)</text><text x="826.1" y="2214.4" font-size="21.3">No. at Risk</text><g transform="translate(850 2264.7)"><text x="-10.68" y="0" font-size="19.2" transform="scale(1 1.0407)">35</text></g><g transform="translate(944.95 2264.7)"><text x="-21.36" y="0" font-size="19.2" transform="scale(1 1.0407)">32</text></g><g transform="translate(1039.2 2264.7)"><text x="-21.36" y="0" font-size="19.2" transform="scale(1 1.0407)">30</text></g><g transform="translate(1133.45 2264.7)"><text x="-21.36" y="0" font-size="19.2" transform="scale(1 1.0407)">25</text></g><g transform="translate(1227.7 2264.7)"><text x="-21.36" y="0" font-size="19.2" transform="scale(1 1.0407)">22</text></g><g transform="translate(1321.95 2264.7)"><text x="-21.36" y="0" font-size="19.2" transform="scale(1 1.0407)">20</text></g><g transform="translate(1416.2 2264.7)"><text x="-21.36" y="0" font-size="19.2" transform="scale(1 1.0407)"> 4</text><path d="M763 0H583V1147Q518 1085 412 1023Q306 961 223 930V1104Q372 1174 484 1274Q596 1374 643 1466H763Z" transform="matrix(0.00937 0 0 -0.00937 -21.36 0)"/></g><g transform="translate(1430.36 2264.7)"><text x="0" y="0" font-size="19.2" transform="scale(1 1.0407)">AC</text></g><g transform="translate(850 2291.8)"><text x="-21.36" y="0" font-size="19.2" transform="scale(1 1.0407)"> 668</text><path d="M763 0H583V1147Q518 1085 412 1023Q306 961 223 930V1104Q372 1174 484 1274Q596 1374 643 1466H763Z" transform="matrix(0.00937 0 0 -0.00937 -21.36 0)"/></g><g transform="translate(944.95 2291.8)"><text x="-42.71" y="0" font-size="19.2" transform="scale(1 1.0407)"> 640</text><path d="M763 0H583V1147Q518 1085 412 1023Q306 961 223 930V1104Q372 1174 484 1274Q596 1374 643 1466H763Z" transform="matrix(0.00937 0 0 -0.00937 -42.71 0)"/></g><g transform="translate(1039.2 2291.8)"><text x="-42.71" y="0" font-size="19.2" transform="scale(1 1.0407)"> 564</text><path d="M763 0H583V1147Q518 1085 412 1023Q306 961 223 930V1104Q372 1174 484 1274Q596 1374 643 1466H763Z" transform="matrix(0.00937 0 0 -0.00937 -42.71 0)"/></g><g transform="translate(1133.45 2291.8)"><text x="-42.71" y="0" font-size="19.2" transform="scale(1 1.0407)"> 428</text><path d="M763 0H583V1147Q518 1085 412 1023Q306 961 223 930V1104Q372 1174 484 1274Q596 1374 643 1466H763Z" transform="matrix(0.00937 0 0 -0.00937 -42.71 0)"/></g><g transform="translate(1227.7 2291.8)"><text x="-42.71" y="0" font-size="19.2" transform="scale(1 1.0407)"> 320</text><path d="M763 0H583V1147Q518 1085 412 1023Q306 961 223 930V1104Q372 1174 484 1274Q596 1374 643 1466H763Z" transform="matrix(0.00937 0 0 -0.00937 -42.71 0)"/></g><g transform="translate(1321.95 2291.8)"><text x="-42.71" y="0" font-size="19.2" transform="scale(1 1.0407)"> 07 </text><path d="M763 0H583V1147Q518 1085 412 1023Q306 961 223 930V1104Q372 1174 484 1274Q596 1374 643 1466H763Z" transform="matrix(0.00937 0 0 -0.00937 -42.71 0)"/><path d="M763 0H583V1147Q518 1085 412 1023Q306 961 223 930V1104Q372 1174 484 1274Q596 1374 643 1466H763Z" transform="matrix(0.00937 0 0 -0.00937 -10.68 0)"/></g><g transform="translate(1416.2 2291.8)"><text x="-32.03" y="0" font-size="19.2" transform="scale(1 1.0407)">635</text></g><g transform="translate(1429.42 2291.8)"><text x="0" y="0" font-size="19.2" transform="scale(1 1.0407)">CC</text></g><path d="M850 1764.1H880V1774.6H883.9V1785H944.5V1795.6H1068.6V1808H1072.3V1820.2H1132.4V1832.4H1196.8V1845.2H1227.2V1858H1415.5" stroke="#00ff00" stroke-width="3" fill="none" stroke-linecap="round" stroke-linejoin="round"/><path d="M850 1764.1H856.7V1765.4H860.8V1766H880V1766.7H884.2V1767.4H910.2V1768.2H944.5V1769.2H974.7V1770.9H1004.9V1772H1037.7V1775.4H1068.6V1777.2H1102.2V1778.5H1124.2V1779.2H1133V1780.2H1163.3V1781.6H1195.5V1783.8H1227V1786.2H1257.9V1787.5H1290.5V1788.9H1321.1V1789.5H1353.7V1790.9H1385.3V1792.5H1415.5" stroke="#0000ff" stroke-width="3" fill="none" stroke-linecap="round" stroke-linejoin="round"/><g transform="translate(1240.4 1782.9)" fill="#0000ff"><text x="-13.14" y="0" font-size="18.2" fill="#0000ff" transform="scale(1 1.0407)">CC</text></g><g transform="translate(1214.2 1874.8)" fill="#00ff00"><text x="-12.64" y="0" font-size="18.2" fill="#00ff00" transform="scale(1 1.0407)">AC</text></g><g transform="translate(862.6 2066.1)"><text x="0" y="0" font-size="21.3" font-style="italic" transform="scale(1 1.0407)">P</text></g><text x="879.1" y="2066.1" font-size="21.3">=</text><g transform="translate(892.1 2066.1)"><text x="0" y="0" font-size="21.3" transform="scale(1 1.0407)">7.26</text></g><path d="M937.6 2055.6L947.8 2065.6M937.6 2065.6L947.8 2055.6" stroke="#000" stroke-width="1.4" fill="none"/><g transform="translate(952.9 2066.1)"><text x="0" y="0" font-size="21.3" transform="scale(1 1.0407)"> 0</text><path d="M763 0H583V1147Q518 1085 412 1023Q306 961 223 930V1104Q372 1174 484 1274Q596 1374 643 1466H763Z" transform="matrix(0.0104 0 0 -0.0104 0 0)"/></g><g transform="translate(976.3 2055.9)"><text x="0" y="0" font-size="15.6" transform="scale(1 1.0407)">−6</text></g></g>
</svg></body></html>
